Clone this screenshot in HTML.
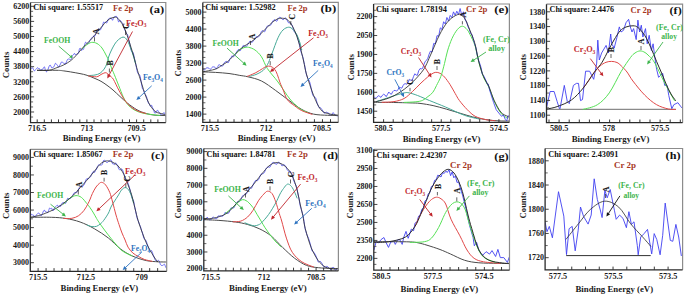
<!DOCTYPE html>
<html><head><meta charset="utf-8"><title>XPS</title>
<style>html,body{margin:0;padding:0;background:#fff;width:685px;height:296px;overflow:hidden}svg{display:block}.cv{filter:blur(0.3px)}</style>
</head><body>
<svg width="685" height="296" viewBox="0 0 685 296" font-family='"Liberation Serif", serif'>
<rect width="685" height="296" fill="#fff"/>
<g>
<clipPath id="ca"><rect x="30.5" y="2.5" width="135.3" height="120.1"/></clipPath>
<g clip-path="url(#ca)"><g class="cv">
<path d="M30.5,68.84 C30.67,68.76 31.17,68.51 31.5,68.33 C31.83,68.15 32.17,67.57 32.5,67.76 C32.83,67.96 33.17,68.97 33.5,69.5 C33.83,70.03 34.17,70.89 34.5,70.93 C34.83,70.96 35.17,70.08 35.5,69.71 C35.83,69.35 36.17,69.08 36.5,68.74 C36.83,68.41 37.17,67.77 37.5,67.72 C37.83,67.67 38.17,68.29 38.5,68.44 C38.83,68.59 39.17,68.32 39.5,68.64 C39.83,68.96 40.17,70.19 40.5,70.34 C40.83,70.49 41.17,69.68 41.5,69.52 C41.83,69.36 42.17,69.64 42.5,69.36 C42.83,69.08 43.17,68.27 43.5,67.85 C43.83,67.44 44.17,66.45 44.5,66.89 C44.83,67.32 45.17,69.68 45.5,70.48 C45.83,71.28 46.17,71.68 46.5,71.71 C46.83,71.74 47.17,71.31 47.5,70.68 C47.83,70.06 48.17,68.81 48.5,67.96 C48.83,67.1 49.17,65.99 49.5,65.54 C49.83,65.1 50.17,64.94 50.5,65.3 C50.83,65.65 51.17,67.28 51.5,67.67 C51.83,68.06 52.17,67.72 52.5,67.64 C52.83,67.56 53.17,67.58 53.5,67.19 C53.83,66.81 54.17,65.97 54.5,65.32 C54.83,64.67 55.17,63.46 55.5,63.28 C55.83,63.1 56.17,63.86 56.5,64.23 C56.83,64.59 57.17,64.97 57.5,65.46 C57.83,65.95 58.17,67.12 58.5,67.16 C58.83,67.2 59.17,66.25 59.5,65.71 C59.83,65.17 60.17,64.54 60.5,63.92 C60.83,63.29 61.17,62.24 61.5,61.97 C61.83,61.69 62.17,62.1 62.5,62.29 C62.83,62.48 63.17,62.92 63.5,63.11 C63.83,63.31 64.17,63.32 64.5,63.46 C64.83,63.6 65.17,64.25 65.5,63.96 C65.83,63.66 66.17,62.44 66.5,61.69 C66.83,60.95 67.17,59.94 67.5,59.49 C67.83,59.04 68.17,59.03 68.5,58.99 C68.83,58.94 69.17,59.09 69.5,59.21 C69.83,59.33 70.17,59.81 70.5,59.69 C70.83,59.57 71.17,59.19 71.5,58.48 C71.83,57.78 72.17,56.07 72.5,55.44 C72.83,54.8 73.17,55.02 73.5,54.67 C73.83,54.32 74.17,53.3 74.5,53.35 C74.83,53.4 75.17,54.83 75.5,54.97 C75.83,55.12 76.17,54.41 76.5,54.22 C76.83,54.03 77.17,54.05 77.5,53.84 C77.83,53.63 78.17,53.82 78.5,52.98 C78.83,52.13 79.17,49.54 79.5,48.78 C79.83,48.01 80.17,48.14 80.5,48.41 C80.83,48.67 81.17,50.17 81.5,50.38 C81.83,50.59 82.17,49.84 82.5,49.65 C82.83,49.46 83.17,49.96 83.5,49.23 C83.83,48.51 84.17,46.45 84.5,45.29 C84.83,44.13 85.17,42.67 85.5,42.27 C85.83,41.86 86.17,42.59 86.5,42.86 C86.83,43.13 87.17,43.83 87.5,43.88 C87.83,43.93 88.17,43.56 88.5,43.15 C88.83,42.75 89.17,42.09 89.5,41.46 C89.83,40.82 90.17,39.89 90.5,39.35 C90.83,38.82 91.17,38.62 91.5,38.23 C91.83,37.83 92.17,37.35 92.5,37.01 C92.83,36.67 93.17,36.24 93.5,36.16 C93.83,36.08 94.17,36.77 94.5,36.52 C94.83,36.27 95.17,35.45 95.5,34.65 C95.83,33.85 96.17,32.37 96.5,31.73 C96.83,31.08 97.17,31.3 97.5,30.8 C97.83,30.29 98.17,28.85 98.5,28.7 C98.83,28.56 99.17,29.76 99.5,29.94 C99.83,30.12 100.17,30.15 100.5,29.77 C100.83,29.39 101.17,28.3 101.5,27.66 C101.83,27.02 102.17,26.83 102.5,25.93 C102.83,25.02 103.17,22.79 103.5,22.21 C103.83,21.63 104.17,22.47 104.5,22.45 C104.83,22.43 105.17,21.98 105.5,22.08 C105.83,22.19 106.17,23.2 106.5,23.09 C106.83,22.97 107.17,22.07 107.5,21.38 C107.83,20.69 108.17,19.46 108.5,18.96 C108.83,18.45 109.17,18.51 109.5,18.35 C109.83,18.19 110.17,18.02 110.5,18 C110.83,17.98 111.17,17.85 111.5,18.23 C111.83,18.62 112.17,20.33 112.5,20.32 C112.83,20.31 113.17,18.76 113.5,18.16 C113.83,17.56 114.17,17.01 114.5,16.72 C114.83,16.43 115.17,16.49 115.5,16.45 C115.83,16.4 116.17,16.2 116.5,16.43 C116.83,16.66 117.17,16.94 117.5,17.83 C117.83,18.73 118.17,21.3 118.5,21.82 C118.83,22.34 119.17,21.13 119.5,20.95 C119.83,20.77 120.17,20.59 120.5,20.75 C120.83,20.91 121.17,21.51 121.5,21.91 C121.83,22.31 122.17,22.35 122.5,23.14 C122.83,23.93 123.17,25.62 123.5,26.66 C123.83,27.7 124.17,28.64 124.5,29.41 C124.83,30.18 125.17,30.59 125.5,31.28 C125.83,31.97 126.17,33.01 126.5,33.54 C126.83,34.06 127.17,33.63 127.5,34.45 C127.83,35.27 128.17,37.07 128.5,38.46 C128.83,39.84 129.17,41.27 129.5,42.75 C129.83,44.24 130.17,45.94 130.5,47.34 C130.83,48.75 131.17,50.44 131.5,51.17 C131.83,51.9 132.17,51.27 132.5,51.72 C132.83,52.17 133.17,52.72 133.5,53.89 C133.83,55.06 134.17,57.23 134.5,58.72 C134.83,60.2 135.17,61.27 135.5,62.79 C135.83,64.32 136.17,66.24 136.5,67.85 C136.83,69.45 137.17,71.41 137.5,72.43 C137.83,73.44 138.17,73.57 138.5,73.94 C138.83,74.31 139.17,73.96 139.5,74.64 C139.83,75.32 140.17,76.47 140.5,78.02 C140.83,79.57 141.17,82.14 141.5,83.93 C141.83,85.72 142.17,87.75 142.5,88.77 C142.83,89.79 143.17,89.31 143.5,90.04 C143.83,90.77 144.17,92.38 144.5,93.14 C144.83,93.89 145.17,93.98 145.5,94.58 C145.83,95.17 146.17,95.76 146.5,96.71 C146.83,97.67 147.17,99.24 147.5,100.32 C147.83,101.4 148.17,102.52 148.5,103.19 C148.83,103.87 149.17,103.83 149.5,104.34 C149.83,104.86 150.17,106.14 150.5,106.28 C150.83,106.42 151.17,104.95 151.5,105.18 C151.83,105.41 152.17,106.96 152.5,107.66 C152.83,108.36 153.17,108.52 153.5,109.38 C153.83,110.24 154.17,112.22 154.5,112.82 C154.83,113.42 155.17,113.2 155.5,112.97 C155.83,112.73 156.17,111.87 156.5,111.4 C156.83,110.93 157.17,110.07 157.5,110.16 C157.83,110.25 158.17,111.55 158.5,111.94 C158.83,112.34 159.17,112.11 159.5,112.52 C159.83,112.92 160.17,113.98 160.5,114.39 C160.83,114.79 161.17,114.99 161.5,114.96 C161.83,114.93 162.17,114.55 162.5,114.19 C162.83,113.84 163.17,113.05 163.5,112.85 C163.83,112.65 164.17,112.4 164.5,113 C164.83,113.59 165.33,115.85 165.5,116.42" fill="none" stroke="#4040f0" stroke-width="0.75" stroke-linejoin="round" stroke-linecap="round"/>
<path d="M37.4,70.3 C40.67,70.3 52.6,70.2 57,70.3 C61.4,70.4 61.55,70.63 63.8,70.9 C66.05,71.17 67.8,71.45 70.5,71.9 C73.2,72.35 77.25,73.03 80,73.6 C82.75,74.17 84.5,74.48 87,75.3 C89.5,76.12 92.67,77.5 95,78.5 C97.33,79.5 99,80.17 101,81.3 C103,82.43 105,83.85 107,85.3 C109,86.75 110.83,88.13 113,90 C115.17,91.87 117.62,94.33 120,96.5 C122.38,98.67 124.47,100.78 127.3,103 C130.13,105.22 133.85,108.05 137,109.8 C140.15,111.55 143.2,112.6 146.2,113.5 C149.2,114.4 151.7,114.87 155,115.2 C158.3,115.53 164.17,115.45 166,115.5" fill="none" stroke="#4a4a4a" stroke-width="1" stroke-linejoin="round" stroke-linecap="round"/>
<path d="M82,49 C82.75,48.33 84.92,46.1 86.5,45 C88.08,43.9 89.75,42.65 91.5,42.4 C93.25,42.15 95.25,42.57 97,43.5 C98.75,44.43 100.5,46.08 102,48 C103.5,49.92 104.8,52.75 106,55 C107.2,57.25 108.28,59.33 109.2,61.5 C110.12,63.67 110.63,65.78 111.5,68 C112.37,70.22 113.18,71.83 114.4,74.8 C115.62,77.77 117.33,82.15 118.8,85.8 C120.27,89.45 121.73,93.6 123.2,96.7 C124.67,99.8 125.77,102.2 127.6,104.4 C129.43,106.6 131.63,108.43 134.2,109.9 C136.77,111.37 139.72,112.38 143,113.2 C146.28,114.02 151.07,114.42 153.9,114.8 C156.73,115.18 158.98,115.38 160,115.5" fill="none" stroke="#55e055" stroke-width="1" stroke-linejoin="round" stroke-linecap="round"/>
<path d="M88,75.6 C89.17,75.5 92.98,75.4 95,75 C97.02,74.6 98.58,74.18 100.1,73.2 C101.62,72.22 103,70.63 104.1,69.1 C105.2,67.57 105.95,66.02 106.7,64 C107.45,61.98 107.72,59.5 108.6,57 C109.48,54.5 110.63,51.62 112,49 C113.37,46.38 114.97,43.28 116.8,41.3 C118.63,39.32 121.25,37.25 123,37.1 C124.75,36.95 125.9,38.2 127.3,40.4 C128.7,42.6 130.22,47.12 131.4,50.3 C132.58,53.48 133.72,57.3 134.4,59.5 C135.08,61.7 135.32,62.83 135.5,63.5" fill="none" stroke="#45a896" stroke-width="1" stroke-linejoin="round" stroke-linecap="round"/>
<path d="M88.3,75.8 C89.68,75.97 94.48,77.02 96.6,76.8 C98.72,76.58 99.58,75.18 101,74.5 C102.42,73.82 103.98,72.83 105.1,72.7 C106.22,72.57 106.85,73.12 107.7,73.7 C108.55,74.28 109.27,75.28 110.2,76.2 C111.13,77.12 111.87,76.88 113.3,79.2 C114.73,81.52 116.78,86.45 118.8,90.1 C120.82,93.75 123.2,98.17 125.4,101.1 C127.6,104.03 129.73,105.97 132,107.7 C134.27,109.43 136.67,110.53 139,111.5 C141.33,112.47 144.83,113.17 146,113.5" fill="none" stroke="#e04848" stroke-width="1" stroke-linejoin="round" stroke-linecap="round"/>
<path d="M37.4,70.3 C39.32,70.3 45.63,70.75 48.9,70.3 C52.17,69.85 54.52,68.5 57,67.6 C59.48,66.7 61.55,66.03 63.8,64.9 C66.05,63.77 68.47,62.35 70.5,60.8 C72.53,59.25 74.27,57.43 76,55.6 C77.73,53.77 79.32,51.6 80.9,49.8 C82.48,48 83.92,46.4 85.5,44.8 C87.08,43.2 88.9,41.77 90.4,40.2 C91.9,38.63 93.12,37.03 94.5,35.4 C95.88,33.77 97.02,32.42 98.7,30.4 C100.38,28.38 102.83,25.18 104.6,23.3 C106.37,21.42 107.73,20.1 109.3,19.1 C110.87,18.1 112.8,17.58 114,17.3 C115.2,17.02 115.67,17.02 116.5,17.4 C117.33,17.78 118.12,18.6 119,19.6 C119.88,20.6 120.77,21.67 121.8,23.4 C122.83,25.13 124.07,27.27 125.2,30 C126.33,32.73 127.6,36.8 128.6,39.8 C129.6,42.8 130.4,45.47 131.2,48 C132,50.53 132.72,52.62 133.4,55 C134.08,57.38 134.77,60.25 135.3,62.3 C135.83,64.35 136.05,65.35 136.6,67.3 C137.15,69.25 137.72,71.17 138.6,74 C139.48,76.83 140.82,80.88 141.9,84.3 C142.98,87.72 144.02,91.52 145.1,94.5 C146.18,97.48 147.3,100 148.4,102.2 C149.5,104.4 150.42,106.05 151.7,107.7 C152.98,109.35 154.27,111.07 156.1,112.1 C157.93,113.13 161.05,113.35 162.7,113.9 C164.35,114.45 165.45,115.15 166,115.4" fill="none" stroke="#2a2a2a" stroke-width="0.8" stroke-linejoin="round" stroke-linecap="round"/>
</g></g>
<line x1="30.5" y1="6.3" x2="34.1" y2="6.3" stroke="#333" stroke-width="0.9"/>
<line x1="30.5" y1="11.33" x2="33.1" y2="11.33" stroke="#555" stroke-width="0.9"/>
<line x1="30.5" y1="16.37" x2="33.1" y2="16.37" stroke="#555" stroke-width="0.9"/>
<line x1="30.5" y1="21.4" x2="34.1" y2="21.4" stroke="#333" stroke-width="0.9"/>
<line x1="30.5" y1="26.43" x2="33.1" y2="26.43" stroke="#555" stroke-width="0.9"/>
<line x1="30.5" y1="31.47" x2="33.1" y2="31.47" stroke="#555" stroke-width="0.9"/>
<line x1="30.5" y1="36.5" x2="34.1" y2="36.5" stroke="#333" stroke-width="0.9"/>
<line x1="30.5" y1="41.53" x2="33.1" y2="41.53" stroke="#555" stroke-width="0.9"/>
<line x1="30.5" y1="46.56" x2="33.1" y2="46.56" stroke="#555" stroke-width="0.9"/>
<line x1="30.5" y1="51.6" x2="34.1" y2="51.6" stroke="#333" stroke-width="0.9"/>
<line x1="30.5" y1="56.63" x2="33.1" y2="56.63" stroke="#555" stroke-width="0.9"/>
<line x1="30.5" y1="61.66" x2="33.1" y2="61.66" stroke="#555" stroke-width="0.9"/>
<line x1="30.5" y1="66.7" x2="34.1" y2="66.7" stroke="#333" stroke-width="0.9"/>
<line x1="30.5" y1="71.73" x2="33.1" y2="71.73" stroke="#555" stroke-width="0.9"/>
<line x1="30.5" y1="76.76" x2="33.1" y2="76.76" stroke="#555" stroke-width="0.9"/>
<line x1="30.5" y1="81.8" x2="34.1" y2="81.8" stroke="#333" stroke-width="0.9"/>
<line x1="30.5" y1="86.83" x2="33.1" y2="86.83" stroke="#555" stroke-width="0.9"/>
<line x1="30.5" y1="91.86" x2="33.1" y2="91.86" stroke="#555" stroke-width="0.9"/>
<line x1="30.5" y1="96.89" x2="34.1" y2="96.89" stroke="#333" stroke-width="0.9"/>
<line x1="30.5" y1="101.93" x2="33.1" y2="101.93" stroke="#555" stroke-width="0.9"/>
<line x1="30.5" y1="106.96" x2="33.1" y2="106.96" stroke="#555" stroke-width="0.9"/>
<line x1="30.5" y1="111.99" x2="34.1" y2="111.99" stroke="#333" stroke-width="0.9"/>
<line x1="30.5" y1="117.03" x2="33.1" y2="117.03" stroke="#555" stroke-width="0.9"/>
<text x="29.3" y="9.05" font-size="8" font-weight="bold" fill="#1a1a1a" text-anchor="end">6200</text>
<text x="29.3" y="24.15" font-size="8" font-weight="bold" fill="#1a1a1a" text-anchor="end">5600</text>
<text x="29.3" y="39.25" font-size="8" font-weight="bold" fill="#1a1a1a" text-anchor="end">5000</text>
<text x="29.3" y="54.35" font-size="8" font-weight="bold" fill="#1a1a1a" text-anchor="end">4400</text>
<text x="29.3" y="69.45" font-size="8" font-weight="bold" fill="#1a1a1a" text-anchor="end">3800</text>
<text x="29.3" y="84.55" font-size="8" font-weight="bold" fill="#1a1a1a" text-anchor="end">3200</text>
<text x="29.3" y="99.65" font-size="8" font-weight="bold" fill="#1a1a1a" text-anchor="end">2600</text>
<text x="29.3" y="114.75" font-size="8" font-weight="bold" fill="#1a1a1a" text-anchor="end">2000</text>
<line x1="37.2" y1="122.6" x2="37.2" y2="119.4" stroke="#222" stroke-width="0.9"/>
<line x1="44.3" y1="122.6" x2="44.3" y2="119.4" stroke="#222" stroke-width="0.9"/>
<line x1="51.4" y1="122.6" x2="51.4" y2="119.4" stroke="#222" stroke-width="0.9"/>
<line x1="58.5" y1="122.6" x2="58.5" y2="119.4" stroke="#222" stroke-width="0.9"/>
<line x1="65.6" y1="122.6" x2="65.6" y2="119.4" stroke="#222" stroke-width="0.9"/>
<line x1="72.7" y1="122.6" x2="72.7" y2="119.4" stroke="#222" stroke-width="0.9"/>
<line x1="79.8" y1="122.6" x2="79.8" y2="119.4" stroke="#222" stroke-width="0.9"/>
<line x1="86.9" y1="122.6" x2="86.9" y2="119.4" stroke="#222" stroke-width="0.9"/>
<line x1="94" y1="122.6" x2="94" y2="119.4" stroke="#222" stroke-width="0.9"/>
<line x1="101.1" y1="122.6" x2="101.1" y2="119.4" stroke="#222" stroke-width="0.9"/>
<line x1="108.2" y1="122.6" x2="108.2" y2="119.4" stroke="#222" stroke-width="0.9"/>
<line x1="115.3" y1="122.6" x2="115.3" y2="119.4" stroke="#222" stroke-width="0.9"/>
<line x1="122.4" y1="122.6" x2="122.4" y2="119.4" stroke="#222" stroke-width="0.9"/>
<line x1="129.5" y1="122.6" x2="129.5" y2="119.4" stroke="#222" stroke-width="0.9"/>
<line x1="136.6" y1="122.6" x2="136.6" y2="119.4" stroke="#222" stroke-width="0.9"/>
<line x1="143.7" y1="122.6" x2="143.7" y2="119.4" stroke="#222" stroke-width="0.9"/>
<line x1="150.8" y1="122.6" x2="150.8" y2="119.4" stroke="#222" stroke-width="0.9"/>
<line x1="157.9" y1="122.6" x2="157.9" y2="119.4" stroke="#222" stroke-width="0.9"/>
<text x="37.2" y="130.7" font-size="8.2" font-weight="bold" fill="#1a1a1a" text-anchor="middle">716.5</text>
<text x="86.9" y="130.7" font-size="8.2" font-weight="bold" fill="#1a1a1a" text-anchor="middle">713</text>
<text x="136.6" y="130.7" font-size="8.2" font-weight="bold" fill="#1a1a1a" text-anchor="middle">709.5</text>
<text x="101.6" y="140.6" font-size="8.8" font-weight="bold" fill="#1a1a1a" text-anchor="middle">Binding Energy (eV)</text>
<text x="5.9" y="67.8" font-size="8.7" font-weight="bold" fill="#1a1a1a" text-anchor="middle" transform="rotate(-90 5.9 64.9)">Counts</text>
<path d="M30.5,2.5 H165.8 V122.6" fill="none" stroke="#8c8c8c" stroke-width="1.2"/>
<path d="M30.5,2.5 V122.6 H165.8" fill="none" stroke="#2a2a2a" stroke-width="1.3"/>
<text x="33.2" y="9.81" font-size="7.7" fill="#111" font-weight="bold" textLength="70" lengthAdjust="spacingAndGlyphs">Chi square: 1.55517</text>
<text x="113.1" y="11.04" font-size="8.6" fill="#a6381f" font-weight="bold" textLength="20.1" lengthAdjust="spacingAndGlyphs">Fe 2p</text>
<text x="149.6" y="12.73" font-size="11" fill="#111" font-weight="bold" textLength="14.6" lengthAdjust="spacingAndGlyphs">(a)</text>
<text x="126" y="25.5" font-size="7.9" fill="#c0262c" font-weight="bold" textLength="20.5" lengthAdjust="spacingAndGlyphs"><tspan>Fe</tspan><tspan font-size="5.21" dy="1.9">2</tspan><tspan dy="-1.9">O</tspan><tspan font-size="5.21" dy="1.9">3</tspan></text>
<text x="44.1" y="42.61" font-size="7.9" fill="#3cb44b" font-weight="bold" textLength="26.3" lengthAdjust="spacingAndGlyphs">FeOOH</text>
<text x="143" y="80" font-size="7.9" fill="#2f74c0" font-weight="bold" textLength="19.9" lengthAdjust="spacingAndGlyphs"><tspan>Fe</tspan><tspan font-size="5.21" dy="1.9">3</tspan><tspan dy="-1.9">O</tspan><tspan font-size="5.21" dy="1.9">4</tspan></text>
<line x1="58.7" y1="46.1" x2="70.71" y2="56.47" stroke="#3cb44b" stroke-width="0.9"/>
<polygon points="72.6,58.1 69.15,57.5 71.51,54.78" fill="#3cb44b"/>
<line x1="132.5" y1="31.5" x2="108.96" y2="75.32" stroke="#c0262c" stroke-width="0.9"/>
<polygon points="107.3,78.4 107.52,73.98 110.87,75.78" fill="#c0262c"/>
<line x1="151.7" y1="85.8" x2="138.97" y2="97.62" stroke="#2f74c0" stroke-width="0.9"/>
<polygon points="136.4,100 138.04,95.89 140.62,98.67" fill="#2f74c0"/>
<text x="96.5" y="34.07" font-size="7.8" font-weight="bold" fill="#151515" stroke="#151515" stroke-width="0.1" text-anchor="middle" transform="rotate(-90 96.5 31.5)">A</text>
<line x1="94.5" y1="37.2" x2="94.5" y2="41.5" stroke="#222" stroke-width="0.7"/>
<text x="110.2" y="65.37" font-size="7.8" font-weight="bold" fill="#151515" stroke="#151515" stroke-width="0.1" text-anchor="middle" transform="rotate(-90 110.2 62.8)">B</text>
<line x1="109.4" y1="68.5" x2="109.4" y2="72.5" stroke="#222" stroke-width="0.7"/>
<text x="126.8" y="28.57" font-size="7.8" font-weight="bold" fill="#151515" stroke="#151515" stroke-width="0.1" text-anchor="middle" transform="rotate(-90 126.8 26)">C</text>
<line x1="125.5" y1="30.5" x2="125.5" y2="35" stroke="#222" stroke-width="0.7"/>
</g>
<g>
<clipPath id="cb"><rect x="202.8" y="2.4" width="135.5" height="120"/></clipPath>
<g clip-path="url(#cb)"><g class="cv">
<path d="M203,69.06 C203.17,69.21 203.67,69.85 204,69.95 C204.33,70.05 204.67,69.95 205,69.66 C205.33,69.36 205.67,68.46 206,68.17 C206.33,67.87 206.67,67.93 207,67.87 C207.33,67.81 207.67,67.72 208,67.8 C208.33,67.88 208.67,68.08 209,68.33 C209.33,68.57 209.67,69.2 210,69.28 C210.33,69.37 210.67,69.15 211,68.83 C211.33,68.51 211.67,67.72 212,67.38 C212.33,67.04 212.67,66.85 213,66.79 C213.33,66.72 213.67,66.93 214,67 C214.33,67.07 214.67,66.87 215,67.21 C215.33,67.55 215.67,68.93 216,69.03 C216.33,69.12 216.67,68.23 217,67.77 C217.33,67.31 217.67,66.81 218,66.27 C218.33,65.72 218.67,64.63 219,64.48 C219.33,64.33 219.67,65.19 220,65.38 C220.33,65.56 220.67,65.41 221,65.57 C221.33,65.73 221.67,66.36 222,66.34 C222.33,66.33 222.67,66.03 223,65.5 C223.33,64.96 223.67,63.72 224,63.14 C224.33,62.56 224.67,62.27 225,62.02 C225.33,61.77 225.67,61.71 226,61.62 C226.33,61.53 226.67,61.25 227,61.47 C227.33,61.7 227.67,63.04 228,62.98 C228.33,62.93 228.67,61.85 229,61.16 C229.33,60.46 229.67,59.39 230,58.82 C230.33,58.24 230.67,58.24 231,57.72 C231.33,57.21 231.67,55.85 232,55.71 C232.33,55.58 232.67,56.81 233,56.9 C233.33,56.99 233.67,56.51 234,56.26 C234.33,56.02 234.67,55.95 235,55.42 C235.33,54.89 235.67,53.78 236,53.09 C236.33,52.39 236.67,51.79 237,51.25 C237.33,50.7 237.67,50.06 238,49.8 C238.33,49.55 238.67,49.49 239,49.7 C239.33,49.92 239.67,51.16 240,51.11 C240.33,51.06 240.67,49.85 241,49.38 C241.33,48.91 241.67,48.93 242,48.3 C242.33,47.67 242.67,46 243,45.6 C243.33,45.19 243.67,45.77 244,45.87 C244.33,45.97 244.67,46.09 245,46.18 C245.33,46.27 245.67,46.47 246,46.42 C246.33,46.36 246.67,46.25 247,45.83 C247.33,45.41 247.67,44.48 248,43.92 C248.33,43.37 248.67,42.98 249,42.48 C249.33,41.98 249.67,41.04 250,40.91 C250.33,40.79 250.67,41.47 251,41.75 C251.33,42.03 251.67,42.72 252,42.59 C252.33,42.47 252.67,41.38 253,40.99 C253.33,40.61 253.67,40.74 254,40.29 C254.33,39.85 254.67,38.93 255,38.34 C255.33,37.76 255.67,37.02 256,36.77 C256.33,36.53 256.67,36.81 257,36.87 C257.33,36.94 257.67,37.28 258,37.17 C258.33,37.07 258.67,36.55 259,36.22 C259.33,35.9 259.67,35.85 260,35.2 C260.33,34.55 260.67,33.04 261,32.3 C261.33,31.57 261.67,31.01 262,30.77 C262.33,30.54 262.67,30.72 263,30.9 C263.33,31.08 263.67,31.79 264,31.85 C264.33,31.91 264.67,31.81 265,31.26 C265.33,30.7 265.67,29.31 266,28.51 C266.33,27.71 266.67,26.96 267,26.47 C267.33,25.97 267.67,25.65 268,25.55 C268.33,25.46 268.67,25.95 269,25.89 C269.33,25.83 269.67,25.38 270,25.19 C270.33,25.01 270.67,25.2 271,24.78 C271.33,24.36 271.67,23.32 272,22.69 C272.33,22.06 272.67,21.48 273,20.98 C273.33,20.49 273.67,19.87 274,19.73 C274.33,19.6 274.67,19.96 275,20.15 C275.33,20.34 275.67,20.7 276,20.85 C276.33,21.01 276.67,21.47 277,21.1 C277.33,20.73 277.67,19.2 278,18.63 C278.33,18.06 278.67,17.92 279,17.69 C279.33,17.45 279.67,17.18 280,17.22 C280.33,17.26 280.67,17.64 281,17.92 C281.33,18.2 281.67,18.54 282,18.87 C282.33,19.21 282.67,19.92 283,19.93 C283.33,19.93 283.67,19.27 284,18.89 C284.33,18.51 284.67,17.73 285,17.66 C285.33,17.59 285.67,18.11 286,18.49 C286.33,18.86 286.67,19.32 287,19.9 C287.33,20.49 287.67,21.42 288,21.98 C288.33,22.54 288.67,23.16 289,23.26 C289.33,23.37 289.67,22.57 290,22.62 C290.33,22.68 290.67,23.17 291,23.6 C291.33,24.03 291.67,24.53 292,25.22 C292.33,25.9 292.67,26.72 293,27.72 C293.33,28.71 293.67,30.36 294,31.18 C294.33,32 294.67,32.15 295,32.63 C295.33,33.11 295.67,33.57 296,34.07 C296.33,34.58 296.67,34.77 297,35.64 C297.33,36.52 297.67,38.16 298,39.34 C298.33,40.52 298.67,41.42 299,42.73 C299.33,44.03 299.67,45.66 300,47.17 C300.33,48.68 300.67,50.51 301,51.78 C301.33,53.05 301.67,53.83 302,54.79 C302.33,55.76 302.67,56.3 303,57.56 C303.33,58.82 303.67,60.81 304,62.35 C304.33,63.9 304.67,65.1 305,66.83 C305.33,68.57 305.67,71.15 306,72.75 C306.33,74.35 306.67,75.47 307,76.44 C307.33,77.42 307.67,77.97 308,78.6 C308.33,79.22 308.67,79.45 309,80.19 C309.33,80.93 309.67,81.82 310,83.03 C310.33,84.24 310.67,85.91 311,87.45 C311.33,89 311.67,90.98 312,92.31 C312.33,93.64 312.67,94.73 313,95.44 C313.33,96.15 313.67,96.29 314,96.57 C314.33,96.85 314.67,96.77 315,97.14 C315.33,97.51 315.67,97.85 316,98.8 C316.33,99.75 316.67,101.77 317,102.85 C317.33,103.93 317.67,104.48 318,105.27 C318.33,106.06 318.67,107.2 319,107.58 C319.33,107.95 319.67,107.43 320,107.53 C320.33,107.64 320.67,107.83 321,108.18 C321.33,108.54 321.67,109.15 322,109.65 C322.33,110.15 322.67,110.65 323,111.2 C323.33,111.75 323.67,112.62 324,112.95 C324.33,113.27 324.67,113.22 325,113.13 C325.33,113.05 325.67,112.58 326,112.43 C326.33,112.27 326.67,112.08 327,112.18 C327.33,112.28 327.67,112.8 328,113.01 C328.33,113.21 328.67,113.1 329,113.43 C329.33,113.75 329.67,114.74 330,114.97 C330.33,115.19 330.67,114.83 331,114.77 C331.33,114.72 331.67,114.97 332,114.62 C332.33,114.26 332.67,112.79 333,112.65 C333.33,112.5 333.67,113.32 334,113.77 C334.33,114.22 334.67,115.11 335,115.36 C335.33,115.6 335.67,115.08 336,115.23 C336.33,115.38 336.67,116.2 337,116.23 C337.33,116.27 337.83,115.57 338,115.44" fill="none" stroke="#4040f0" stroke-width="0.75" stroke-linejoin="round" stroke-linecap="round"/>
<path d="M203,71.9 C205.08,71.98 211.17,72.13 215.5,72.4 C219.83,72.67 224.95,73 229,73.5 C233.05,74 236.63,74.85 239.8,75.4 C242.97,75.95 244.38,75.87 248,76.8 C251.62,77.73 256.88,78.72 261.5,81 C266.12,83.28 270.97,87.15 275.7,90.5 C280.43,93.85 285.57,97.95 289.9,101.1 C294.23,104.25 297.77,107.23 301.7,109.4 C305.63,111.57 309.17,113.12 313.5,114.1 C317.83,115.08 323.53,115.1 327.7,115.3 C331.87,115.5 336.7,115.3 338.5,115.3" fill="none" stroke="#4a4a4a" stroke-width="1" stroke-linejoin="round" stroke-linecap="round"/>
<path d="M236,53.6 C236.63,52.93 238.47,50.58 239.8,49.6 C241.13,48.62 242.55,48.08 244,47.7 C245.45,47.32 246.67,46.92 248.5,47.3 C250.33,47.68 252.83,48.42 255,50 C257.17,51.58 259.43,53.7 261.5,56.8 C263.57,59.9 264.65,64.4 267.4,68.6 C270.15,72.8 274.25,76.93 278,82 C281.75,87.07 286.23,94.53 289.9,99 C293.57,103.47 296.98,106.55 300,108.8 C303.02,111.05 306.67,111.88 308,112.5" fill="none" stroke="#55e055" stroke-width="1" stroke-linejoin="round" stroke-linecap="round"/>
<path d="M249.7,76.3 C250.75,76 254.03,75.28 256,74.5 C257.97,73.72 260,72.6 261.5,71.6 C263,70.6 263.83,70.02 265,68.5 C266.17,66.98 267.33,65 268.5,62.5 C269.67,60 270.42,57.62 272,53.5 C273.58,49.38 276.17,41.72 278,37.8 C279.83,33.88 281.22,31.77 283,30 C284.78,28.23 287.03,27.28 288.7,27.2 C290.37,27.12 291.62,28.2 293,29.5 C294.38,30.8 295.83,32.75 297,35 C298.17,37.25 299.22,40.55 300,43 C300.78,45.45 301.42,48.58 301.7,49.7" fill="none" stroke="#45a896" stroke-width="1" stroke-linejoin="round" stroke-linecap="round"/>
<path d="M247.3,76.3 C247.6,76.18 247.68,76.2 249.1,75.6 C250.52,75 253.55,73.87 255.8,72.7 C258.05,71.53 260.8,69.65 262.6,68.6 C264.4,67.55 265.25,66.77 266.6,66.4 C267.95,66.03 269.35,65.92 270.7,66.4 C272.05,66.88 273.58,67.92 274.7,69.3 C275.82,70.68 276.5,72.45 277.4,74.7 C278.3,76.95 279.17,80.33 280.1,82.8 C281.03,85.27 281.77,86.65 283,89.5 C284.23,92.35 285.57,97.18 287.5,99.9 C289.43,102.62 292.23,104.02 294.6,105.8 C296.97,107.58 298.8,109.18 301.7,110.6 C304.6,112.02 310.28,113.68 312,114.3" fill="none" stroke="#e04848" stroke-width="1" stroke-linejoin="round" stroke-linecap="round"/>
<path d="M203,71.8 C205.08,71.35 212.28,70.23 215.5,69.1 C218.72,67.97 220.27,66.25 222.3,65 C224.33,63.75 225.9,63.07 227.7,61.6 C229.5,60.13 231.3,58 233.1,56.2 C234.9,54.4 236.7,52.45 238.5,50.8 C240.3,49.15 242.1,47.6 243.9,46.3 C245.7,45 247.6,44.12 249.3,43 C251,41.88 252.28,41.05 254.1,39.6 C255.92,38.15 258.17,36.2 260.2,34.3 C262.23,32.4 264.27,30.22 266.3,28.2 C268.33,26.18 270.38,23.8 272.4,22.2 C274.42,20.6 276.5,19.23 278.4,18.6 C280.3,17.97 282.27,18.18 283.8,18.4 C285.33,18.62 286.33,18.9 287.6,19.9 C288.87,20.9 290.13,22.38 291.4,24.4 C292.67,26.42 294.07,29.33 295.2,32 C296.33,34.67 297.2,37.23 298.2,40.4 C299.2,43.57 300.27,47.4 301.2,51 C302.13,54.6 302.93,58.18 303.8,62 C304.67,65.82 304.78,68.37 306.4,73.9 C308.02,79.43 311.13,89.28 313.5,95.2 C315.87,101.12 318.23,106.35 320.6,109.4 C322.97,112.45 324.72,112.52 327.7,113.5 C330.68,114.48 336.7,115 338.5,115.3" fill="none" stroke="#2a2a2a" stroke-width="0.8" stroke-linejoin="round" stroke-linecap="round"/>
</g></g>
<line x1="202.8" y1="6.43" x2="205.4" y2="6.43" stroke="#555" stroke-width="0.9"/>
<line x1="202.8" y1="12.1" x2="206.4" y2="12.1" stroke="#333" stroke-width="0.9"/>
<line x1="202.8" y1="17.77" x2="205.4" y2="17.77" stroke="#555" stroke-width="0.9"/>
<line x1="202.8" y1="23.43" x2="205.4" y2="23.43" stroke="#555" stroke-width="0.9"/>
<line x1="202.8" y1="29.1" x2="206.4" y2="29.1" stroke="#333" stroke-width="0.9"/>
<line x1="202.8" y1="34.77" x2="205.4" y2="34.77" stroke="#555" stroke-width="0.9"/>
<line x1="202.8" y1="40.44" x2="205.4" y2="40.44" stroke="#555" stroke-width="0.9"/>
<line x1="202.8" y1="46.1" x2="206.4" y2="46.1" stroke="#333" stroke-width="0.9"/>
<line x1="202.8" y1="51.77" x2="205.4" y2="51.77" stroke="#555" stroke-width="0.9"/>
<line x1="202.8" y1="57.44" x2="205.4" y2="57.44" stroke="#555" stroke-width="0.9"/>
<line x1="202.8" y1="63.1" x2="206.4" y2="63.1" stroke="#333" stroke-width="0.9"/>
<line x1="202.8" y1="68.77" x2="205.4" y2="68.77" stroke="#555" stroke-width="0.9"/>
<line x1="202.8" y1="74.44" x2="205.4" y2="74.44" stroke="#555" stroke-width="0.9"/>
<line x1="202.8" y1="80.1" x2="206.4" y2="80.1" stroke="#333" stroke-width="0.9"/>
<line x1="202.8" y1="85.77" x2="205.4" y2="85.77" stroke="#555" stroke-width="0.9"/>
<line x1="202.8" y1="91.44" x2="205.4" y2="91.44" stroke="#555" stroke-width="0.9"/>
<line x1="202.8" y1="97.11" x2="206.4" y2="97.11" stroke="#333" stroke-width="0.9"/>
<line x1="202.8" y1="102.77" x2="205.4" y2="102.77" stroke="#555" stroke-width="0.9"/>
<line x1="202.8" y1="108.44" x2="205.4" y2="108.44" stroke="#555" stroke-width="0.9"/>
<line x1="202.8" y1="114.11" x2="206.4" y2="114.11" stroke="#333" stroke-width="0.9"/>
<line x1="202.8" y1="119.77" x2="205.4" y2="119.77" stroke="#555" stroke-width="0.9"/>
<text x="201.6" y="14.85" font-size="8" font-weight="bold" fill="#1a1a1a" text-anchor="end">5000</text>
<text x="201.6" y="31.85" font-size="8" font-weight="bold" fill="#1a1a1a" text-anchor="end">4400</text>
<text x="201.6" y="48.85" font-size="8" font-weight="bold" fill="#1a1a1a" text-anchor="end">3800</text>
<text x="201.6" y="65.85" font-size="8" font-weight="bold" fill="#1a1a1a" text-anchor="end">3200</text>
<text x="201.6" y="82.75" font-size="8" font-weight="bold" fill="#1a1a1a" text-anchor="end">2600</text>
<text x="201.6" y="99.75" font-size="8" font-weight="bold" fill="#1a1a1a" text-anchor="end">2000</text>
<text x="201.6" y="116.75" font-size="8" font-weight="bold" fill="#1a1a1a" text-anchor="end">1400</text>
<line x1="209.9" y1="122.4" x2="209.9" y2="119.2" stroke="#222" stroke-width="0.9"/>
<line x1="217.94" y1="122.4" x2="217.94" y2="119.2" stroke="#222" stroke-width="0.9"/>
<line x1="225.98" y1="122.4" x2="225.98" y2="119.2" stroke="#222" stroke-width="0.9"/>
<line x1="234.02" y1="122.4" x2="234.02" y2="119.2" stroke="#222" stroke-width="0.9"/>
<line x1="242.06" y1="122.4" x2="242.06" y2="119.2" stroke="#222" stroke-width="0.9"/>
<line x1="250.1" y1="122.4" x2="250.1" y2="119.2" stroke="#222" stroke-width="0.9"/>
<line x1="258.14" y1="122.4" x2="258.14" y2="119.2" stroke="#222" stroke-width="0.9"/>
<line x1="266.18" y1="122.4" x2="266.18" y2="119.2" stroke="#222" stroke-width="0.9"/>
<line x1="274.22" y1="122.4" x2="274.22" y2="119.2" stroke="#222" stroke-width="0.9"/>
<line x1="282.26" y1="122.4" x2="282.26" y2="119.2" stroke="#222" stroke-width="0.9"/>
<line x1="290.3" y1="122.4" x2="290.3" y2="119.2" stroke="#222" stroke-width="0.9"/>
<line x1="298.34" y1="122.4" x2="298.34" y2="119.2" stroke="#222" stroke-width="0.9"/>
<line x1="306.38" y1="122.4" x2="306.38" y2="119.2" stroke="#222" stroke-width="0.9"/>
<line x1="314.42" y1="122.4" x2="314.42" y2="119.2" stroke="#222" stroke-width="0.9"/>
<line x1="322.46" y1="122.4" x2="322.46" y2="119.2" stroke="#222" stroke-width="0.9"/>
<line x1="330.5" y1="122.4" x2="330.5" y2="119.2" stroke="#222" stroke-width="0.9"/>
<text x="209.9" y="130.8" font-size="8.2" font-weight="bold" fill="#1a1a1a" text-anchor="middle">715.5</text>
<text x="266.2" y="130.8" font-size="8.2" font-weight="bold" fill="#1a1a1a" text-anchor="middle">712</text>
<text x="322" y="130.8" font-size="8.2" font-weight="bold" fill="#1a1a1a" text-anchor="middle">708.5</text>
<text x="276.5" y="140.7" font-size="8.8" font-weight="bold" fill="#1a1a1a" text-anchor="middle">Binding Energy (eV)</text>
<text x="178.3" y="66" font-size="8.7" font-weight="bold" fill="#1a1a1a" text-anchor="middle" transform="rotate(-90 178.3 63.1)">Counts</text>
<path d="M202.8,2.4 H338.3 V122.4" fill="none" stroke="#8c8c8c" stroke-width="1.2"/>
<path d="M202.8,2.4 V122.4 H338.3" fill="none" stroke="#2a2a2a" stroke-width="1.3"/>
<text x="205.2" y="10.31" font-size="7.7" fill="#111" font-weight="bold" textLength="70.5" lengthAdjust="spacingAndGlyphs">Chi square: 1.52982</text>
<text x="287.5" y="11.04" font-size="8.6" fill="#a6381f" font-weight="bold" textLength="20.1" lengthAdjust="spacingAndGlyphs">Fe 2p</text>
<text x="320.6" y="12.23" font-size="11" fill="#111" font-weight="bold" textLength="15.6" lengthAdjust="spacingAndGlyphs">(b)</text>
<text x="308.3" y="36.2" font-size="7.9" fill="#c0262c" font-weight="bold" textLength="19.7" lengthAdjust="spacingAndGlyphs"><tspan>Fe</tspan><tspan font-size="5.21" dy="1.9">2</tspan><tspan dy="-1.9">O</tspan><tspan font-size="5.21" dy="1.9">3</tspan></text>
<text x="212.5" y="46.41" font-size="7.9" fill="#3cb44b" font-weight="bold" textLength="26.3" lengthAdjust="spacingAndGlyphs">FeOOH</text>
<text x="313" y="65.7" font-size="7.9" fill="#2f74c0" font-weight="bold" textLength="19.6" lengthAdjust="spacingAndGlyphs"><tspan>Fe</tspan><tspan font-size="5.21" dy="1.9">3</tspan><tspan dy="-1.9">O</tspan><tspan font-size="5.21" dy="1.9">4</tspan></text>
<line x1="227" y1="48.1" x2="244" y2="63.36" stroke="#3cb44b" stroke-width="0.9"/>
<polygon points="246.6,65.7 242.35,64.44 244.89,61.61" fill="#3cb44b"/>
<line x1="313.5" y1="37.8" x2="272.75" y2="69.84" stroke="#c0262c" stroke-width="0.9"/>
<polygon points="270,72 271.97,68.03 274.32,71.02" fill="#c0262c"/>
<line x1="318.2" y1="70.4" x2="303.06" y2="84.51" stroke="#2f74c0" stroke-width="0.9"/>
<polygon points="300.5,86.9 302.13,82.78 304.72,85.56" fill="#2f74c0"/>
<text x="252" y="39.27" font-size="7.8" font-weight="bold" fill="#151515" stroke="#151515" stroke-width="0.1" text-anchor="middle" transform="rotate(-90 252 36.7)">A</text>
<line x1="250.5" y1="41" x2="250.5" y2="45" stroke="#222" stroke-width="0.7"/>
<text x="270.9" y="58.37" font-size="7.8" font-weight="bold" fill="#151515" stroke="#151515" stroke-width="0.1" text-anchor="middle" transform="rotate(-90 270.9 55.8)">B</text>
<line x1="270.2" y1="61.2" x2="270.2" y2="65.3" stroke="#222" stroke-width="0.7"/>
<text x="292.2" y="19.17" font-size="7.8" font-weight="bold" fill="#151515" stroke="#151515" stroke-width="0.1" text-anchor="middle" transform="rotate(-90 292.2 16.6)">C</text>
<line x1="290.8" y1="21" x2="290.8" y2="25" stroke="#222" stroke-width="0.7"/>
</g>
<g>
<clipPath id="ce"><rect x="373.6" y="4" width="135.8" height="118.4"/></clipPath>
<g clip-path="url(#ce)"><g class="cv">
<path d="M374,102.3 C377.28,102.33 387.7,102.4 393.7,102.5 C399.7,102.6 405.62,102.75 410,102.9 C414.38,103.05 416.15,102.95 420,103.4 C423.85,103.85 428.72,104.65 433.1,105.6 C437.48,106.55 441.92,107.87 446.3,109.1 C450.68,110.33 455.02,111.7 459.4,113 C463.78,114.3 468.22,115.8 472.6,116.9 C476.98,118 481.33,118.93 485.7,119.6 C490.07,120.27 494.83,120.67 498.8,120.9 C502.77,121.13 507.72,120.98 509.5,121" fill="none" stroke="#4a4a4a" stroke-width="1" stroke-linejoin="round" stroke-linecap="round"/>
<path d="M377.1,101.4 C379.63,100.55 387.8,97.72 392.3,96.3 C396.8,94.88 401.28,93.47 404.1,92.9 C406.92,92.33 406.95,92.47 409.2,92.9 C411.45,93.33 414.23,94.23 417.6,95.5 C420.97,96.77 424.72,98.57 429.4,100.5 C434.08,102.43 439.82,104.62 445.7,107.1 C451.58,109.58 458.98,113.38 464.7,115.4 C470.42,117.42 477.45,118.57 480,119.2" fill="none" stroke="#45a896" stroke-width="1" stroke-linejoin="round" stroke-linecap="round"/>
<path d="M382.1,102.3 C384.08,102.18 390.33,102.23 394,101.6 C397.67,100.97 401.02,100.18 404.1,98.5 C407.18,96.82 409.68,94.08 412.5,91.5 C415.32,88.92 418.47,85.42 421,83 C423.53,80.58 425.87,78.53 427.7,77 C429.53,75.47 430.65,74.58 432,73.8 C433.35,73.02 434.47,72.38 435.8,72.3 C437.13,72.22 438.55,72.52 440,73.3 C441.45,74.08 442.83,75.13 444.5,77 C446.17,78.87 448.22,81.75 450,84.5 C451.78,87.25 453.63,90.83 455.2,93.5 C456.77,96.17 457.38,97.8 459.4,100.5 C461.42,103.2 464.67,107.07 467.3,109.7 C469.93,112.33 472.13,114.65 475.2,116.3 C478.27,117.95 482.4,118.87 485.7,119.6 C489,120.33 493.45,120.52 495,120.7" fill="none" stroke="#e04848" stroke-width="1" stroke-linejoin="round" stroke-linecap="round"/>
<path d="M404.1,102.4 C406.07,102.3 412.8,102.15 415.9,101.8 C419,101.45 420.68,101.18 422.7,100.3 C424.72,99.42 426.32,97.82 428,96.5 C429.68,95.18 431.38,94.23 432.8,92.4 C434.22,90.57 435.15,88.18 436.5,85.5 C437.85,82.82 439.57,79.97 440.9,76.3 C442.23,72.63 443.4,67.72 444.5,63.5 C445.6,59.28 446.25,55.17 447.5,51 C448.75,46.83 450.35,42.08 452,38.5 C453.65,34.92 455.67,31.55 457.4,29.5 C459.13,27.45 460.77,26.18 462.4,26.2 C464.03,26.22 465.95,28.25 467.2,29.6 C468.45,30.95 469,32.62 469.9,34.3 C470.8,35.98 471.7,37.63 472.6,39.7 C473.5,41.77 474.25,42.9 475.3,46.7 C476.35,50.5 477.53,57.45 478.9,62.5 C480.27,67.55 481.82,72.82 483.5,77 C485.18,81.18 487.23,83.6 489,87.6 C490.77,91.6 492.12,96.73 494.1,101 C496.08,105.27 498.65,110.33 500.9,113.2 C503.15,116.07 506.48,117.37 507.6,118.2" fill="none" stroke="#55e055" stroke-width="1" stroke-linejoin="round" stroke-linecap="round"/>
<path d="M374.5,97.01 L375.8,98.52 L377.1,97.08 L378.4,95.66 L379.7,96.41 L381,97.4 L382.3,95.39 L383.6,94.25 L384.9,94.92 L386.2,96.66 L387.5,94.41 L388.8,92 L390.1,93.63 L391.4,94.26 L392.7,91.78 L394,90.43 L395.3,90.47 L396.6,91.12 L397.9,89.79 L399.2,87.05 L400.5,87.61 L401.8,88.2 L403.1,85.49 L404.4,83.83 L405.7,83.75 L407,84.19 L408.3,81.88 L409.6,79.37 L410.9,80.34 L412.2,80.29 L413.5,76.63 L414.8,73.76 L416.1,75 L417.4,75.28 L418.7,70.77 L420,68.59 L421.3,68.91 L422.6,68.42 L423.9,64.49 L425.2,61.45 L426.5,60.35 L427.8,58.3 L429.1,54.25 L430.4,51.2 L432.05,52.02 L433.7,43.4 L435.35,43.99 L437,35.61 L438.65,36.29 L440.3,27.82 L441.95,29.43 L443.6,21.73 L445.25,23.99 L446.9,17.48 L448.55,21.04 L450.2,15.35 L451.85,17.61 L453.5,11.84 L455.15,15.37 L456.8,11.19 L458.45,14.77 L460.1,8.53 L461.75,15.15 L463.4,11.81 L465.05,19.56 L466.7,22.2 L468,26.75 L469.3,29.24 L470.6,33.51 L471.9,34.35 L473.2,38.66 L474.5,43.6 L475.8,47.28 L477.1,54.42 L478.4,59.84 L479.7,63.38 L481,67.42 L482.3,74.17 L483.6,75.55 L484.9,78.2 L486.2,81.06 L487.5,84.63 L488.2,84 L489.6,90 L491.5,96 L493.6,102.5 L496.2,109.7 L498.8,113 L501.5,116.3 L503.4,115 L505.4,119.6 L506.7,120.9 L508,115.6 L509.5,117" fill="none" stroke="#4040f0" stroke-width="0.85" stroke-linejoin="round" stroke-linecap="round"/>
<path d="M374,101.4 C374.52,101.4 374.62,101.97 377.1,101.4 C379.58,100.83 385.25,99.42 388.9,98 C392.55,96.58 395.62,95.02 399,92.9 C402.38,90.78 406.1,87.97 409.2,85.3 C412.3,82.63 415.07,79.72 417.6,76.9 C420.13,74.08 422.5,71.47 424.4,68.4 C426.3,65.33 427.55,61.7 429,58.5 C430.45,55.3 431.73,52.33 433.1,49.2 C434.47,46.07 435.85,42.63 437.2,39.7 C438.55,36.77 439.85,34.07 441.2,31.6 C442.55,29.13 443.95,26.82 445.3,24.9 C446.65,22.98 447.95,21.45 449.3,20.1 C450.65,18.75 452.05,17.7 453.4,16.8 C454.75,15.9 456.23,15.12 457.4,14.7 C458.57,14.28 459.22,13.73 460.4,14.3 C461.58,14.87 463.37,16.57 464.5,18.1 C465.63,19.63 466.3,21.47 467.2,23.5 C468.1,25.53 469,28.05 469.9,30.3 C470.8,32.55 471.7,34.53 472.6,37 C473.5,39.47 474.25,40.93 475.3,45.1 C476.35,49.27 477.53,56.77 478.9,62 C480.27,67.23 481.82,72.37 483.5,76.5 C485.18,80.63 487.23,82.83 489,86.8 C490.77,90.77 492.12,96.07 494.1,100.3 C496.08,104.53 498.65,109.52 500.9,112.2 C503.15,114.88 506.17,115.52 507.6,116.4 C509.03,117.28 509.18,117.32 509.5,117.5" fill="none" stroke="#2a2a2a" stroke-width="0.85" stroke-linejoin="round" stroke-linecap="round"/>
</g></g>
<line x1="373.6" y1="10.29" x2="376.2" y2="10.29" stroke="#555" stroke-width="0.9"/>
<line x1="373.6" y1="16.6" x2="377.2" y2="16.6" stroke="#333" stroke-width="0.9"/>
<line x1="373.6" y1="22.91" x2="376.2" y2="22.91" stroke="#555" stroke-width="0.9"/>
<line x1="373.6" y1="29.21" x2="376.2" y2="29.21" stroke="#555" stroke-width="0.9"/>
<line x1="373.6" y1="35.52" x2="377.2" y2="35.52" stroke="#333" stroke-width="0.9"/>
<line x1="373.6" y1="41.83" x2="376.2" y2="41.83" stroke="#555" stroke-width="0.9"/>
<line x1="373.6" y1="48.14" x2="376.2" y2="48.14" stroke="#555" stroke-width="0.9"/>
<line x1="373.6" y1="54.44" x2="377.2" y2="54.44" stroke="#333" stroke-width="0.9"/>
<line x1="373.6" y1="60.75" x2="376.2" y2="60.75" stroke="#555" stroke-width="0.9"/>
<line x1="373.6" y1="67.06" x2="376.2" y2="67.06" stroke="#555" stroke-width="0.9"/>
<line x1="373.6" y1="73.36" x2="377.2" y2="73.36" stroke="#333" stroke-width="0.9"/>
<line x1="373.6" y1="79.67" x2="376.2" y2="79.67" stroke="#555" stroke-width="0.9"/>
<line x1="373.6" y1="85.98" x2="376.2" y2="85.98" stroke="#555" stroke-width="0.9"/>
<line x1="373.6" y1="92.28" x2="377.2" y2="92.28" stroke="#333" stroke-width="0.9"/>
<line x1="373.6" y1="98.59" x2="376.2" y2="98.59" stroke="#555" stroke-width="0.9"/>
<line x1="373.6" y1="104.9" x2="376.2" y2="104.9" stroke="#555" stroke-width="0.9"/>
<line x1="373.6" y1="111.21" x2="377.2" y2="111.21" stroke="#333" stroke-width="0.9"/>
<line x1="373.6" y1="117.51" x2="376.2" y2="117.51" stroke="#555" stroke-width="0.9"/>
<text x="372.4" y="19.35" font-size="8" font-weight="bold" fill="#1a1a1a" text-anchor="end">2200</text>
<text x="372.4" y="38.25" font-size="8" font-weight="bold" fill="#1a1a1a" text-anchor="end">2050</text>
<text x="372.4" y="57.15" font-size="8" font-weight="bold" fill="#1a1a1a" text-anchor="end">1900</text>
<text x="372.4" y="76.05" font-size="8" font-weight="bold" fill="#1a1a1a" text-anchor="end">1750</text>
<text x="372.4" y="94.95" font-size="8" font-weight="bold" fill="#1a1a1a" text-anchor="end">1600</text>
<text x="372.4" y="113.85" font-size="8" font-weight="bold" fill="#1a1a1a" text-anchor="end">1450</text>
<line x1="383.6" y1="122.4" x2="383.6" y2="119.2" stroke="#222" stroke-width="0.9"/>
<line x1="393.21" y1="122.4" x2="393.21" y2="119.2" stroke="#222" stroke-width="0.9"/>
<line x1="402.82" y1="122.4" x2="402.82" y2="119.2" stroke="#222" stroke-width="0.9"/>
<line x1="412.43" y1="122.4" x2="412.43" y2="119.2" stroke="#222" stroke-width="0.9"/>
<line x1="422.04" y1="122.4" x2="422.04" y2="119.2" stroke="#222" stroke-width="0.9"/>
<line x1="431.65" y1="122.4" x2="431.65" y2="119.2" stroke="#222" stroke-width="0.9"/>
<line x1="441.26" y1="122.4" x2="441.26" y2="119.2" stroke="#222" stroke-width="0.9"/>
<line x1="450.87" y1="122.4" x2="450.87" y2="119.2" stroke="#222" stroke-width="0.9"/>
<line x1="460.48" y1="122.4" x2="460.48" y2="119.2" stroke="#222" stroke-width="0.9"/>
<line x1="470.09" y1="122.4" x2="470.09" y2="119.2" stroke="#222" stroke-width="0.9"/>
<line x1="479.7" y1="122.4" x2="479.7" y2="119.2" stroke="#222" stroke-width="0.9"/>
<line x1="489.31" y1="122.4" x2="489.31" y2="119.2" stroke="#222" stroke-width="0.9"/>
<line x1="498.92" y1="122.4" x2="498.92" y2="119.2" stroke="#222" stroke-width="0.9"/>
<text x="383.6" y="131.4" font-size="8.2" font-weight="bold" fill="#1a1a1a" text-anchor="middle">580.5</text>
<text x="441.2" y="131.4" font-size="8.2" font-weight="bold" fill="#1a1a1a" text-anchor="middle">577.5</text>
<text x="499" y="131.4" font-size="8.2" font-weight="bold" fill="#1a1a1a" text-anchor="middle">574.5</text>
<text x="441.6" y="142.4" font-size="8.8" font-weight="bold" fill="#1a1a1a" text-anchor="middle">Binding Energy (eV)</text>
<text x="350.7" y="70.2" font-size="8.7" font-weight="bold" fill="#1a1a1a" text-anchor="middle" transform="rotate(-90 350.7 67.3)">Counts</text>
<path d="M373.6,4 H509.4 V122.4" fill="none" stroke="#8c8c8c" stroke-width="1.2"/>
<path d="M373.6,4 V122.4 H509.4" fill="none" stroke="#2a2a2a" stroke-width="1.3"/>
<text x="375.9" y="11.71" font-size="7.7" fill="#111" font-weight="bold" textLength="71" lengthAdjust="spacingAndGlyphs">Chi square: 1.78194</text>
<text x="465.9" y="12.04" font-size="8.6" fill="#a6381f" font-weight="bold" textLength="21.5" lengthAdjust="spacingAndGlyphs">Cr 2p</text>
<text x="494.3" y="13.43" font-size="11" fill="#111" font-weight="bold" textLength="14.4" lengthAdjust="spacingAndGlyphs">(e)</text>
<text x="483.1" y="41.61" font-size="7.9" fill="#3cb44b" font-weight="bold" textLength="26.7" lengthAdjust="spacingAndGlyphs">(Fe, Cr)</text>
<text x="488.3" y="51.11" font-size="7.9" fill="#3cb44b" font-weight="bold" textLength="16.7" lengthAdjust="spacingAndGlyphs">alloy</text>
<text x="400.8" y="53.9" font-size="7.9" fill="#c0262c" font-weight="bold" textLength="20.2" lengthAdjust="spacingAndGlyphs"><tspan>Cr</tspan><tspan font-size="5.21" dy="1.9">2</tspan><tspan dy="-1.9">O</tspan><tspan font-size="5.21" dy="1.9">3</tspan></text>
<text x="386.4" y="75.4" font-size="7.9" fill="#2f74c0" font-weight="bold" textLength="17.7" lengthAdjust="spacingAndGlyphs"><tspan>CrO</tspan><tspan font-size="5.21" dy="1.9">3</tspan></text>
<line x1="486" y1="52" x2="473.53" y2="60.18" stroke="#3cb44b" stroke-width="0.9"/>
<polygon points="470.6,62.1 472.9,58.32 474.99,61.5" fill="#3cb44b"/>
<line x1="418.5" y1="57.5" x2="429.59" y2="74.57" stroke="#c0262c" stroke-width="0.9"/>
<polygon points="431.5,77.5 427.73,75.18 430.91,73.11" fill="#c0262c"/>
<line x1="394.8" y1="79.4" x2="402.48" y2="94.1" stroke="#2f74c0" stroke-width="0.9"/>
<polygon points="404.1,97.2 400.56,94.53 403.93,92.77" fill="#2f74c0"/>
<text x="463.1" y="17.27" font-size="7.8" font-weight="bold" fill="#151515" stroke="#151515" stroke-width="0.1" text-anchor="middle" transform="rotate(-90 463.1 14.7)">A</text>
<line x1="462.4" y1="21.2" x2="462.4" y2="24.4" stroke="#222" stroke-width="0.7"/>
<text x="437.5" y="64.17" font-size="7.8" font-weight="bold" fill="#151515" stroke="#151515" stroke-width="0.1" text-anchor="middle" transform="rotate(-90 437.5 61.6)">B</text>
<line x1="437" y1="66" x2="437" y2="70" stroke="#222" stroke-width="0.7"/>
<text x="410" y="84.57" font-size="7.8" font-weight="bold" fill="#151515" stroke="#151515" stroke-width="0.1" text-anchor="middle" transform="rotate(-90 410 82)">C</text>
<line x1="410" y1="87.9" x2="410" y2="91.3" stroke="#222" stroke-width="0.7"/>
</g>
<g>
<clipPath id="cf"><rect x="546.5" y="4.2" width="136.1" height="118.5"/></clipPath>
<g clip-path="url(#cf)"><g class="cv">
<path d="M546.5,107.7 L550.1,91.5 L554.1,91.5 L557.2,101.7 L559.8,109.8 L564.3,85.4 L567.3,101.7 L569.3,103.7 L573.4,85.4 L576.4,83.4 L578.5,83.4 L580.5,100.6 L582.5,99.6 L585.6,71.2 L589.6,71.2 L593.7,79.3 L596.7,63.1 L597.8,40.1 L599.3,60 L601.6,53 L606.1,45.4 L608.4,53 L610.7,34 L611.7,43.8 L614.2,48 L616.8,37.9 L619.3,26.9 L621,32 L623.5,30.3 L626,22.7 L628.6,19.3 L630.3,26.9 L632,32 L633.6,28.6 L636.2,39.6 L637.9,20.1 L639.6,32 L641.3,25.2 L642.9,37 L645.5,28.6 L647.2,43.8 L649.2,35.3 L651.4,50.5 L653.1,43.8 L654.8,57.3 L656.6,69.2 L658.6,77.3 L660.7,75.3 L662.7,73.3 L664.7,85.4 L667.1,85.4 L668.8,95.6 L671.8,108.8 L673.8,104.7 L677.9,102.7 L680.9,106.7 L683,108.8" fill="none" stroke="#4040f0" stroke-width="0.9" stroke-linejoin="round" stroke-linecap="round"/>
<line x1="546.5" y1="109.4" x2="675.8" y2="109.4" stroke="#8a8a8a" stroke-width="1.4"/>
<path d="M583.2,88.1 C584.17,86.75 587.22,82.55 589,80 C590.78,77.45 592.07,75.13 593.9,72.8 C595.73,70.47 597.98,67.75 600,66 C602.02,64.25 604.07,63.07 606,62.3 C607.93,61.53 609.77,61.37 611.6,61.4 C613.43,61.43 615.42,61.78 617,62.5 C618.58,63.22 619.43,64.12 621.1,65.7 C622.77,67.28 625.03,69.45 627,72 C628.97,74.55 629.93,77.13 632.9,81 C635.87,84.87 640.85,91.25 644.8,95.2 C648.75,99.15 652.67,102.4 656.6,104.7 C660.53,107 665.25,108.22 668.4,109 C671.55,109.78 674.32,109.33 675.5,109.4" fill="none" stroke="#e04848" stroke-width="1" stroke-linejoin="round" stroke-linecap="round"/>
<path d="M583.2,109.4 C585.57,108.62 593.05,107.45 597.4,104.7 C601.75,101.95 605.35,98.42 609.3,92.9 C613.25,87.38 617.55,77.52 621.1,71.6 C624.65,65.68 628.28,60.5 630.6,57.4 C632.92,54.3 633.43,54.08 635,53 C636.57,51.92 638.33,50.98 640,50.9 C641.67,50.82 643.5,51.65 645,52.5 C646.5,53.35 647.47,54.42 649,56 C650.53,57.58 651.75,57.83 654.2,62 C656.65,66.17 661.23,76.17 663.7,81 C666.17,85.83 667.22,87.75 669,91 C670.78,94.25 673.5,98.92 674.4,100.5" fill="none" stroke="#55e055" stroke-width="1" stroke-linejoin="round" stroke-linecap="round"/>
<path d="M547,109 C548.7,108.6 553.13,108.1 557.2,106.6 C561.27,105.1 567.07,103.08 571.4,100 C575.73,96.92 579.45,92.63 583.2,88.1 C586.95,83.57 590.73,77.13 593.9,72.8 C597.07,68.47 599.85,65.73 602.2,62.1 C604.55,58.47 606.03,54.68 608,51 C609.97,47.32 612,43.33 614,40 C616,36.67 618,33.17 620,31 C622,28.83 623.83,27.87 626,27 C628.17,26.13 631,25.72 633,25.8 C635,25.88 636.03,25.88 638,27.5 C639.97,29.12 642.68,32.2 644.8,35.5 C646.92,38.8 648.73,42.97 650.7,47.3 C652.67,51.63 654.72,57.05 656.6,61.5 C658.48,65.95 660.32,70.02 662,74 C663.68,77.98 665.2,82.07 666.7,85.4 C668.2,88.73 669.53,91.48 671,94 C672.47,96.52 674.75,99.42 675.5,100.5" fill="none" stroke="#2a2a2a" stroke-width="1" stroke-linejoin="round" stroke-linecap="round"/>
</g></g>
<line x1="546.5" y1="11.8" x2="550.1" y2="11.8" stroke="#333" stroke-width="0.9"/>
<line x1="546.5" y1="19.19" x2="549.1" y2="19.19" stroke="#555" stroke-width="0.9"/>
<line x1="546.5" y1="26.57" x2="550.1" y2="26.57" stroke="#333" stroke-width="0.9"/>
<line x1="546.5" y1="33.96" x2="549.1" y2="33.96" stroke="#555" stroke-width="0.9"/>
<line x1="546.5" y1="41.34" x2="550.1" y2="41.34" stroke="#333" stroke-width="0.9"/>
<line x1="546.5" y1="48.73" x2="549.1" y2="48.73" stroke="#555" stroke-width="0.9"/>
<line x1="546.5" y1="56.12" x2="550.1" y2="56.12" stroke="#333" stroke-width="0.9"/>
<line x1="546.5" y1="63.5" x2="549.1" y2="63.5" stroke="#555" stroke-width="0.9"/>
<line x1="546.5" y1="70.89" x2="550.1" y2="70.89" stroke="#333" stroke-width="0.9"/>
<line x1="546.5" y1="78.27" x2="549.1" y2="78.27" stroke="#555" stroke-width="0.9"/>
<line x1="546.5" y1="85.66" x2="550.1" y2="85.66" stroke="#333" stroke-width="0.9"/>
<line x1="546.5" y1="93.05" x2="549.1" y2="93.05" stroke="#555" stroke-width="0.9"/>
<line x1="546.5" y1="100.43" x2="550.1" y2="100.43" stroke="#333" stroke-width="0.9"/>
<line x1="546.5" y1="107.82" x2="549.1" y2="107.82" stroke="#555" stroke-width="0.9"/>
<line x1="546.5" y1="115.2" x2="550.1" y2="115.2" stroke="#333" stroke-width="0.9"/>
<text x="545.3" y="14.55" font-size="8" font-weight="bold" fill="#1a1a1a" text-anchor="end">1380</text>
<text x="545.3" y="29.35" font-size="8" font-weight="bold" fill="#1a1a1a" text-anchor="end">1340</text>
<text x="545.3" y="44.15" font-size="8" font-weight="bold" fill="#1a1a1a" text-anchor="end">1300</text>
<text x="545.3" y="58.85" font-size="8" font-weight="bold" fill="#1a1a1a" text-anchor="end">1260</text>
<text x="545.3" y="73.65" font-size="8" font-weight="bold" fill="#1a1a1a" text-anchor="end">1220</text>
<text x="545.3" y="88.45" font-size="8" font-weight="bold" fill="#1a1a1a" text-anchor="end">1180</text>
<text x="545.3" y="103.15" font-size="8" font-weight="bold" fill="#1a1a1a" text-anchor="end">1140</text>
<text x="545.3" y="117.95" font-size="8" font-weight="bold" fill="#1a1a1a" text-anchor="end">1100</text>
<line x1="549" y1="122.7" x2="549" y2="119.5" stroke="#222" stroke-width="0.9"/>
<line x1="559.1" y1="122.7" x2="559.1" y2="119.5" stroke="#222" stroke-width="0.9"/>
<line x1="569.2" y1="122.7" x2="569.2" y2="119.5" stroke="#222" stroke-width="0.9"/>
<line x1="579.3" y1="122.7" x2="579.3" y2="119.5" stroke="#222" stroke-width="0.9"/>
<line x1="589.4" y1="122.7" x2="589.4" y2="119.5" stroke="#222" stroke-width="0.9"/>
<line x1="599.5" y1="122.7" x2="599.5" y2="119.5" stroke="#222" stroke-width="0.9"/>
<line x1="609.6" y1="122.7" x2="609.6" y2="119.5" stroke="#222" stroke-width="0.9"/>
<line x1="619.7" y1="122.7" x2="619.7" y2="119.5" stroke="#222" stroke-width="0.9"/>
<line x1="629.8" y1="122.7" x2="629.8" y2="119.5" stroke="#222" stroke-width="0.9"/>
<line x1="639.9" y1="122.7" x2="639.9" y2="119.5" stroke="#222" stroke-width="0.9"/>
<line x1="650" y1="122.7" x2="650" y2="119.5" stroke="#222" stroke-width="0.9"/>
<line x1="660.1" y1="122.7" x2="660.1" y2="119.5" stroke="#222" stroke-width="0.9"/>
<line x1="670.2" y1="122.7" x2="670.2" y2="119.5" stroke="#222" stroke-width="0.9"/>
<line x1="680.3" y1="122.7" x2="680.3" y2="119.5" stroke="#222" stroke-width="0.9"/>
<text x="559.1" y="130.8" font-size="8.2" font-weight="bold" fill="#1a1a1a" text-anchor="middle">580.5</text>
<text x="609" y="130.8" font-size="8.2" font-weight="bold" fill="#1a1a1a" text-anchor="middle">578</text>
<text x="660.2" y="130.8" font-size="8.2" font-weight="bold" fill="#1a1a1a" text-anchor="middle">575.5</text>
<text x="610.5" y="142.4" font-size="8.8" font-weight="bold" fill="#1a1a1a" text-anchor="middle">Binding Energy (eV)</text>
<text x="523" y="70.2" font-size="8.7" font-weight="bold" fill="#1a1a1a" text-anchor="middle" transform="rotate(-90 523 67.3)">Counts</text>
<path d="M546.5,4.2 H682.6 V122.7" fill="none" stroke="#8c8c8c" stroke-width="1.2"/>
<path d="M546.5,4.2 V122.7 H682.6" fill="none" stroke="#2a2a2a" stroke-width="1.3"/>
<text x="549.6" y="12.21" font-size="7.7" fill="#111" font-weight="bold" textLength="64.4" lengthAdjust="spacingAndGlyphs">Chi square: 2.4476</text>
<text x="630.6" y="13.44" font-size="8.6" fill="#a6381f" font-weight="bold" textLength="21" lengthAdjust="spacingAndGlyphs">Cr 2p</text>
<text x="669.6" y="14.13" font-size="11" fill="#111" font-weight="bold" textLength="12.1" lengthAdjust="spacingAndGlyphs">(f)</text>
<text x="656.1" y="29.81" font-size="7.9" fill="#3cb44b" font-weight="bold" textLength="26.7" lengthAdjust="spacingAndGlyphs">(Fe, Cr)</text>
<text x="661.3" y="39.31" font-size="7.9" fill="#3cb44b" font-weight="bold" textLength="15.7" lengthAdjust="spacingAndGlyphs">alloy</text>
<text x="573.8" y="51.6" font-size="7.9" fill="#c0262c" font-weight="bold" textLength="21.5" lengthAdjust="spacingAndGlyphs"><tspan>Cr</tspan><tspan font-size="5.21" dy="1.9">2</tspan><tspan dy="-1.9">O</tspan><tspan font-size="5.21" dy="1.9">3</tspan></text>
<line x1="663" y1="42" x2="649.12" y2="61.64" stroke="#3cb44b" stroke-width="0.9"/>
<polygon points="647.1,64.5 647.86,60.14 650.96,62.33" fill="#3cb44b"/>
<line x1="590.3" y1="58.6" x2="601.32" y2="73.49" stroke="#c0262c" stroke-width="0.9"/>
<polygon points="603.4,76.3 599.49,74.22 602.55,71.95" fill="#c0262c"/>
<text x="611.6" y="52.27" font-size="7.8" font-weight="bold" fill="#151515" stroke="#151515" stroke-width="0.1" text-anchor="middle" transform="rotate(-90 611.6 49.7)">B</text>
<line x1="611" y1="54" x2="611" y2="58" stroke="#222" stroke-width="0.7"/>
<text x="641.2" y="43.97" font-size="7.8" font-weight="bold" fill="#151515" stroke="#151515" stroke-width="0.1" text-anchor="middle" transform="rotate(-90 641.2 41.4)">A</text>
<line x1="641" y1="46" x2="641" y2="50" stroke="#222" stroke-width="0.7"/>
</g>
<g>
<clipPath id="cc"><rect x="30.3" y="149.3" width="136.4" height="122"/></clipPath>
<g clip-path="url(#cc)"><g class="cv">
<path d="M30.5,215.95 C30.67,215.65 31.17,214.33 31.5,214.16 C31.83,213.99 32.17,214.76 32.5,214.93 C32.83,215.1 33.17,214.91 33.5,215.19 C33.83,215.46 34.17,216.38 34.5,216.58 C34.83,216.79 35.17,216.73 35.5,216.43 C35.83,216.13 36.17,215.24 36.5,214.79 C36.83,214.34 37.17,214.06 37.5,213.74 C37.83,213.43 38.17,212.83 38.5,212.89 C38.83,212.95 39.17,213.75 39.5,214.12 C39.83,214.49 40.17,214.86 40.5,215.1 C40.83,215.33 41.17,215.8 41.5,215.51 C41.83,215.23 42.17,214.14 42.5,213.39 C42.83,212.64 43.17,211.53 43.5,211 C43.83,210.47 44.17,210.07 44.5,210.22 C44.83,210.37 45.17,211.62 45.5,211.9 C45.83,212.18 46.17,211.77 46.5,211.89 C46.83,212.02 47.17,212.8 47.5,212.66 C47.83,212.52 48.17,211.81 48.5,211.06 C48.83,210.31 49.17,208.56 49.5,208.17 C49.83,207.78 50.17,208.72 50.5,208.7 C50.83,208.67 51.17,207.7 51.5,208 C51.83,208.3 52.17,210.1 52.5,210.49 C52.83,210.88 53.17,210.8 53.5,210.33 C53.83,209.86 54.17,208.27 54.5,207.67 C54.83,207.06 55.17,207 55.5,206.71 C55.83,206.42 56.17,206.16 56.5,205.91 C56.83,205.66 57.17,205.04 57.5,205.21 C57.83,205.37 58.17,206.85 58.5,206.91 C58.83,206.97 59.17,205.64 59.5,205.55 C59.83,205.46 60.17,206.65 60.5,206.36 C60.83,206.07 61.17,204.33 61.5,203.81 C61.83,203.3 62.17,203.59 62.5,203.29 C62.83,202.99 63.17,202.02 63.5,202.01 C63.83,202 64.17,202.98 64.5,203.21 C64.83,203.44 65.17,203.66 65.5,203.38 C65.83,203.09 66.17,202.31 66.5,201.49 C66.83,200.67 67.17,198.93 67.5,198.44 C67.83,197.94 68.17,198.48 68.5,198.52 C68.83,198.56 69.17,198.73 69.5,198.69 C69.83,198.66 70.17,198.49 70.5,198.3 C70.83,198.1 71.17,197.8 71.5,197.5 C71.83,197.2 72.17,197.12 72.5,196.49 C72.83,195.86 73.17,194.35 73.5,193.73 C73.83,193.11 74.17,192.98 74.5,192.77 C74.83,192.56 75.17,192.5 75.5,192.48 C75.83,192.46 76.17,192.85 76.5,192.64 C76.83,192.44 77.17,191.79 77.5,191.22 C77.83,190.65 78.17,189.89 78.5,189.24 C78.83,188.58 79.17,187.78 79.5,187.3 C79.83,186.82 80.17,186.6 80.5,186.35 C80.83,186.1 81.17,185.73 81.5,185.79 C81.83,185.84 82.17,186.72 82.5,186.68 C82.83,186.63 83.17,185.98 83.5,185.52 C83.83,185.06 84.17,184.68 84.5,183.92 C84.83,183.16 85.17,181.79 85.5,180.96 C85.83,180.12 86.17,179.31 86.5,178.91 C86.83,178.5 87.17,178.57 87.5,178.52 C87.83,178.47 88.17,178.76 88.5,178.63 C88.83,178.5 89.17,178.01 89.5,177.73 C89.83,177.44 90.17,177.49 90.5,176.92 C90.83,176.35 91.17,175.04 91.5,174.32 C91.83,173.59 92.17,173.07 92.5,172.57 C92.83,172.07 93.17,171.34 93.5,171.32 C93.83,171.3 94.17,172.6 94.5,172.47 C94.83,172.34 95.17,171.03 95.5,170.54 C95.83,170.04 96.17,170.2 96.5,169.5 C96.83,168.8 97.17,167.08 97.5,166.34 C97.83,165.59 98.17,165.27 98.5,165.03 C98.83,164.79 99.17,164.9 99.5,164.9 C99.83,164.9 100.17,164.98 100.5,165.02 C100.83,165.06 101.17,165.38 101.5,165.15 C101.83,164.93 102.17,164.45 102.5,163.68 C102.83,162.91 103.17,161.12 103.5,160.53 C103.83,159.94 104.17,160 104.5,160.14 C104.83,160.28 105.17,160.99 105.5,161.36 C105.83,161.72 106.17,162.17 106.5,162.34 C106.83,162.51 107.17,162.5 107.5,162.36 C107.83,162.22 108.17,161.69 108.5,161.49 C108.83,161.3 109.17,161.45 109.5,161.16 C109.83,160.87 110.17,159.79 110.5,159.75 C110.83,159.7 111.17,160.24 111.5,160.9 C111.83,161.55 112.17,163.18 112.5,163.69 C112.83,164.2 113.17,163.78 113.5,163.94 C113.83,164.09 114.17,164.8 114.5,164.61 C114.83,164.41 115.17,162.86 115.5,162.79 C115.83,162.72 116.17,163.83 116.5,164.19 C116.83,164.55 117.17,164.25 117.5,164.95 C117.83,165.66 118.17,167.6 118.5,168.41 C118.83,169.21 119.17,169.54 119.5,169.8 C119.83,170.06 120.17,170.12 120.5,169.97 C120.83,169.83 121.17,168.93 121.5,168.91 C121.83,168.89 122.17,169.22 122.5,169.87 C122.83,170.51 123.17,171.65 123.5,172.76 C123.83,173.86 124.17,175.32 124.5,176.49 C124.83,177.67 125.17,179.17 125.5,179.8 C125.83,180.43 126.17,179.94 126.5,180.27 C126.83,180.6 127.17,181.06 127.5,181.8 C127.83,182.54 128.17,183.72 128.5,184.71 C128.83,185.7 129.17,186.45 129.5,187.72 C129.83,188.99 130.17,191.03 130.5,192.34 C130.83,193.65 131.17,194.51 131.5,195.59 C131.83,196.66 132.17,197.98 132.5,198.8 C132.83,199.61 133.17,199.3 133.5,200.47 C133.83,201.64 134.17,204.19 134.5,205.83 C134.83,207.47 135.17,208.68 135.5,210.32 C135.83,211.96 136.17,214.16 136.5,215.66 C136.83,217.16 137.17,218.3 137.5,219.31 C137.83,220.32 138.17,220.85 138.5,221.71 C138.83,222.57 139.17,223.63 139.5,224.45 C139.83,225.28 140.17,225.68 140.5,226.65 C140.83,227.63 141.17,229.24 141.5,230.3 C141.83,231.35 142.17,231.87 142.5,232.98 C142.83,234.1 143.17,235.96 143.5,237 C143.83,238.04 144.17,238.73 144.5,239.21 C144.83,239.7 145.17,239.47 145.5,239.91 C145.83,240.35 146.17,241 146.5,241.86 C146.83,242.71 147.17,244.1 147.5,245.03 C147.83,245.96 148.17,246.52 148.5,247.45 C148.83,248.37 149.17,249.94 149.5,250.6 C149.83,251.27 150.17,251.44 150.5,251.44 C150.83,251.43 151.17,250.32 151.5,250.55 C151.83,250.78 152.17,251.95 152.5,252.84 C152.83,253.72 153.17,254.97 153.5,255.87 C153.83,256.77 154.17,257.46 154.5,258.24 C154.83,259.02 155.17,260.04 155.5,260.54 C155.83,261.04 156.17,261.15 156.5,261.25 C156.83,261.35 157.17,261.31 157.5,261.16 C157.83,261.01 158.17,260.29 158.5,260.36 C158.83,260.44 159.17,260.88 159.5,261.61 C159.83,262.34 160.17,264.1 160.5,264.74 C160.83,265.37 161.17,265.28 161.5,265.4 C161.83,265.52 162.17,265.55 162.5,265.46 C162.83,265.37 163.17,265.07 163.5,264.87 C163.83,264.66 164.17,263.94 164.5,264.24 C164.83,264.53 165.17,265.97 165.5,266.66 C165.83,267.34 166.33,268.06 166.5,268.34" fill="none" stroke="#4040f0" stroke-width="0.75" stroke-linejoin="round" stroke-linecap="round"/>
<path d="M30.5,217.3 C34.03,217.3 45.8,217.1 51.7,217.3 C57.6,217.5 61.17,217.72 65.9,218.5 C70.63,219.28 75.37,220.3 80.1,222 C84.83,223.7 89.57,226.02 94.3,228.7 C99.03,231.38 104.17,234.75 108.5,238.1 C112.83,241.45 116.37,245.83 120.3,248.8 C124.23,251.77 127.77,253.93 132.1,255.9 C136.43,257.87 141.95,259.62 146.3,260.6 C150.65,261.58 154.83,261.57 158.2,261.8 C161.57,262.03 165.12,261.97 166.5,262" fill="none" stroke="#4a4a4a" stroke-width="1" stroke-linejoin="round" stroke-linecap="round"/>
<path d="M63,204.4 C63.58,203.88 65.25,202.4 66.5,201.3 C67.75,200.2 68.92,198.75 70.5,197.8 C72.08,196.85 74.18,195.67 76,195.6 C77.82,195.53 79.6,196.08 81.4,197.4 C83.2,198.72 85.37,201.8 86.8,203.5 C88.23,205.2 88.88,206.02 90,207.6 C91.12,209.18 92.4,211.18 93.5,213 C94.6,214.82 95.68,216.95 96.6,218.5 C97.52,220.05 97.68,220.38 99,222.3 C100.32,224.22 102.53,227.37 104.5,230 C106.47,232.63 108.8,235.6 110.8,238.1 C112.8,240.6 114.52,242.82 116.5,245 C118.48,247.18 120.1,249.38 122.7,251.2 C125.3,253.02 130.53,255.12 132.1,255.9" fill="none" stroke="#55e055" stroke-width="1" stroke-linejoin="round" stroke-linecap="round"/>
<path d="M87.2,225.1 C88,225.35 90.43,226.4 92,226.6 C93.57,226.8 95.18,226.77 96.6,226.3 C98.02,225.83 99.32,224.78 100.5,223.8 C101.68,222.82 102.37,222.2 103.7,220.4 C105.03,218.6 107.2,215.4 108.5,213 C109.8,210.6 109.93,208.83 111.5,206 C113.07,203.17 116.23,198.67 117.9,196 C119.57,193.33 120.32,191.4 121.5,190 C122.68,188.6 123.92,187.73 125,187.6 C126.08,187.47 127,188.02 128,189.2 C129,190.38 130.08,192.4 131,194.7 C131.92,197 133.08,201.62 133.5,203" fill="none" stroke="#45a896" stroke-width="1" stroke-linejoin="round" stroke-linecap="round"/>
<path d="M63.8,218.4 C65.15,218.38 69.43,218.75 71.9,218.3 C74.37,217.85 76.57,217.03 78.6,215.7 C80.63,214.37 82.52,212.33 84.1,210.3 C85.68,208.27 87.08,205.38 88.1,203.5 C89.12,201.62 89.48,200.67 90.2,199 C90.92,197.33 91.43,195.5 92.4,193.5 C93.37,191.5 94.82,188.7 96,187 C97.18,185.3 98.52,184.07 99.5,183.3 C100.48,182.53 100.9,182.15 101.9,182.4 C102.9,182.65 104.2,183.15 105.5,184.8 C106.8,186.45 108.52,189.43 109.7,192.3 C110.88,195.17 111.55,198.22 112.6,202 C113.65,205.78 114.93,211.25 116,215 C117.07,218.75 118,221.5 119,224.5 C120,227.5 120.98,230.42 122,233 C123.02,235.58 124.1,237.65 125.1,240 C126.1,242.35 126.72,244.93 128,247.1 C129.28,249.27 131.02,251.42 132.8,253 C134.58,254.58 136.73,255.52 138.7,256.6 C140.67,257.68 142.38,258.72 144.6,259.5 C146.82,260.28 150.77,261 152,261.3" fill="none" stroke="#e04848" stroke-width="1" stroke-linejoin="round" stroke-linecap="round"/>
<path d="M30.5,217.3 C32.45,216.83 37.88,216.02 42.2,214.5 C46.52,212.98 52.42,210.4 56.4,208.2 C60.38,206 63.25,203.5 66.1,201.3 C68.95,199.1 71.13,197.28 73.5,195 C75.87,192.72 78.05,190.08 80.3,187.6 C82.55,185.12 84.75,182.7 87,180.1 C89.25,177.5 91.97,174.27 93.8,172 C95.63,169.73 96.67,168.03 98,166.5 C99.33,164.97 100.4,163.73 101.8,162.8 C103.2,161.87 104.73,161.07 106.4,160.9 C108.07,160.73 109.9,161 111.8,161.8 C113.7,162.6 116.03,164.05 117.8,165.7 C119.57,167.35 121.13,169.68 122.4,171.7 C123.67,173.72 124.52,175.77 125.4,177.8 C126.28,179.83 126.93,181.87 127.7,183.9 C128.47,185.93 129.27,187.9 130,190 C130.73,192.1 131.15,192.95 132.1,196.5 C133.05,200.05 134.52,206.73 135.7,211.3 C136.88,215.87 137.43,218.63 139.2,223.9 C140.97,229.17 143.93,237.57 146.3,242.9 C148.67,248.23 151.5,252.75 153.4,255.9 C155.3,259.05 156.98,260.82 157.7,261.8" fill="none" stroke="#2a2a2a" stroke-width="0.8" stroke-linejoin="round" stroke-linecap="round"/>
</g></g>
<line x1="30.3" y1="157.4" x2="33.9" y2="157.4" stroke="#333" stroke-width="0.9"/>
<line x1="30.3" y1="166.18" x2="32.9" y2="166.18" stroke="#555" stroke-width="0.9"/>
<line x1="30.3" y1="174.95" x2="33.9" y2="174.95" stroke="#333" stroke-width="0.9"/>
<line x1="30.3" y1="183.73" x2="32.9" y2="183.73" stroke="#555" stroke-width="0.9"/>
<line x1="30.3" y1="192.5" x2="33.9" y2="192.5" stroke="#333" stroke-width="0.9"/>
<line x1="30.3" y1="201.28" x2="32.9" y2="201.28" stroke="#555" stroke-width="0.9"/>
<line x1="30.3" y1="210.05" x2="33.9" y2="210.05" stroke="#333" stroke-width="0.9"/>
<line x1="30.3" y1="218.83" x2="32.9" y2="218.83" stroke="#555" stroke-width="0.9"/>
<line x1="30.3" y1="227.6" x2="33.9" y2="227.6" stroke="#333" stroke-width="0.9"/>
<line x1="30.3" y1="236.38" x2="32.9" y2="236.38" stroke="#555" stroke-width="0.9"/>
<line x1="30.3" y1="245.15" x2="33.9" y2="245.15" stroke="#333" stroke-width="0.9"/>
<line x1="30.3" y1="253.93" x2="32.9" y2="253.93" stroke="#555" stroke-width="0.9"/>
<line x1="30.3" y1="262.7" x2="33.9" y2="262.7" stroke="#333" stroke-width="0.9"/>
<text x="29.1" y="160.15" font-size="8" font-weight="bold" fill="#1a1a1a" text-anchor="end">9000</text>
<text x="29.1" y="177.7" font-size="8" font-weight="bold" fill="#1a1a1a" text-anchor="end">8000</text>
<text x="29.1" y="195.25" font-size="8" font-weight="bold" fill="#1a1a1a" text-anchor="end">7000</text>
<text x="29.1" y="212.8" font-size="8" font-weight="bold" fill="#1a1a1a" text-anchor="end">6000</text>
<text x="29.1" y="230.35" font-size="8" font-weight="bold" fill="#1a1a1a" text-anchor="end">5000</text>
<text x="29.1" y="247.9" font-size="8" font-weight="bold" fill="#1a1a1a" text-anchor="end">4000</text>
<text x="29.1" y="265.45" font-size="8" font-weight="bold" fill="#1a1a1a" text-anchor="end">3000</text>
<line x1="38.1" y1="271.3" x2="38.1" y2="268.1" stroke="#222" stroke-width="0.9"/>
<line x1="46.07" y1="271.3" x2="46.07" y2="268.1" stroke="#222" stroke-width="0.9"/>
<line x1="54.04" y1="271.3" x2="54.04" y2="268.1" stroke="#222" stroke-width="0.9"/>
<line x1="62.01" y1="271.3" x2="62.01" y2="268.1" stroke="#222" stroke-width="0.9"/>
<line x1="69.98" y1="271.3" x2="69.98" y2="268.1" stroke="#222" stroke-width="0.9"/>
<line x1="77.95" y1="271.3" x2="77.95" y2="268.1" stroke="#222" stroke-width="0.9"/>
<line x1="85.92" y1="271.3" x2="85.92" y2="268.1" stroke="#222" stroke-width="0.9"/>
<line x1="93.89" y1="271.3" x2="93.89" y2="268.1" stroke="#222" stroke-width="0.9"/>
<line x1="101.86" y1="271.3" x2="101.86" y2="268.1" stroke="#222" stroke-width="0.9"/>
<line x1="109.83" y1="271.3" x2="109.83" y2="268.1" stroke="#222" stroke-width="0.9"/>
<line x1="117.8" y1="271.3" x2="117.8" y2="268.1" stroke="#222" stroke-width="0.9"/>
<line x1="125.77" y1="271.3" x2="125.77" y2="268.1" stroke="#222" stroke-width="0.9"/>
<line x1="133.74" y1="271.3" x2="133.74" y2="268.1" stroke="#222" stroke-width="0.9"/>
<line x1="141.71" y1="271.3" x2="141.71" y2="268.1" stroke="#222" stroke-width="0.9"/>
<line x1="149.68" y1="271.3" x2="149.68" y2="268.1" stroke="#222" stroke-width="0.9"/>
<line x1="157.65" y1="271.3" x2="157.65" y2="268.1" stroke="#222" stroke-width="0.9"/>
<text x="38.1" y="280.1" font-size="8.2" font-weight="bold" fill="#1a1a1a" text-anchor="middle">715.5</text>
<text x="86" y="280.1" font-size="8.2" font-weight="bold" fill="#1a1a1a" text-anchor="middle">712.5</text>
<text x="141.7" y="280.1" font-size="8.2" font-weight="bold" fill="#1a1a1a" text-anchor="middle">709</text>
<text x="99.4" y="291.3" font-size="8.8" font-weight="bold" fill="#1a1a1a" text-anchor="middle">Binding Energy (eV)</text>
<text x="6.4" y="208.7" font-size="8.7" font-weight="bold" fill="#1a1a1a" text-anchor="middle" transform="rotate(-90 6.4 205.8)">Counts</text>
<path d="M30.3,149.3 H166.7 V271.3" fill="none" stroke="#8c8c8c" stroke-width="1.2"/>
<path d="M30.3,149.3 V271.3 H166.7" fill="none" stroke="#2a2a2a" stroke-width="1.3"/>
<text x="33.2" y="157.21" font-size="7.7" fill="#111" font-weight="bold" textLength="69.4" lengthAdjust="spacingAndGlyphs">Chi square: 1.85067</text>
<text x="112.7" y="156.94" font-size="8.6" fill="#a6381f" font-weight="bold" textLength="20.7" lengthAdjust="spacingAndGlyphs">Fe 2p</text>
<text x="151.1" y="159.13" font-size="11" fill="#111" font-weight="bold" textLength="13.2" lengthAdjust="spacingAndGlyphs">(c)</text>
<text x="125" y="174.1" font-size="7.9" fill="#c0262c" font-weight="bold" textLength="20.4" lengthAdjust="spacingAndGlyphs"><tspan>Fe</tspan><tspan font-size="5.21" dy="1.9">2</tspan><tspan dy="-1.9">O</tspan><tspan font-size="5.21" dy="1.9">3</tspan></text>
<text x="37" y="197.81" font-size="7.9" fill="#3cb44b" font-weight="bold" textLength="26.2" lengthAdjust="spacingAndGlyphs">FeOOH</text>
<text x="131" y="250.7" font-size="7.9" fill="#2f74c0" font-weight="bold" textLength="19.1" lengthAdjust="spacingAndGlyphs"><tspan>Fe</tspan><tspan font-size="5.21" dy="1.9">3</tspan><tspan dy="-1.9">O</tspan><tspan font-size="5.21" dy="1.9">4</tspan></text>
<line x1="50.5" y1="204.2" x2="63.16" y2="214.23" stroke="#3cb44b" stroke-width="0.9"/>
<polygon points="65.9,216.4 61.58,215.41 63.94,212.43" fill="#3cb44b"/>
<line x1="135.2" y1="174.7" x2="98.95" y2="208.9" stroke="#c0262c" stroke-width="0.9"/>
<polygon points="96.4,211.3 98.01,207.17 100.61,209.94" fill="#c0262c"/>
<line x1="141.6" y1="252.3" x2="125.25" y2="267.7" stroke="#2f74c0" stroke-width="0.9"/>
<polygon points="122.7,270.1 124.31,265.97 126.91,268.74" fill="#2f74c0"/>
<text x="79.8" y="187.27" font-size="7.8" font-weight="bold" fill="#151515" stroke="#151515" stroke-width="0.1" text-anchor="middle" transform="rotate(-90 79.8 184.7)">A</text>
<line x1="78.3" y1="190" x2="78.3" y2="194.6" stroke="#222" stroke-width="0.7"/>
<text x="104.1" y="175.07" font-size="7.8" font-weight="bold" fill="#151515" stroke="#151515" stroke-width="0.1" text-anchor="middle" transform="rotate(-90 104.1 172.5)">B</text>
<line x1="104.1" y1="177.8" x2="104.1" y2="181.6" stroke="#222" stroke-width="0.7"/>
<text x="127" y="181.17" font-size="7.8" font-weight="bold" fill="#151515" stroke="#151515" stroke-width="0.1" text-anchor="middle" transform="rotate(-90 127 178.6)">C</text>
<line x1="125.8" y1="183.5" x2="125.8" y2="187.5" stroke="#222" stroke-width="0.7"/>
</g>
<g>
<clipPath id="cd"><rect x="203.8" y="148.6" width="134.6" height="122.3"/></clipPath>
<g clip-path="url(#cd)"><g class="cv">
<path d="M204,220.4 C204.17,220.21 204.67,219.49 205,219.24 C205.33,218.98 205.67,219.2 206,218.87 C206.33,218.54 206.67,217.38 207,217.26 C207.33,217.14 207.67,217.74 208,218.16 C208.33,218.58 208.67,219.55 209,219.78 C209.33,220.01 209.67,219.56 210,219.55 C210.33,219.53 210.67,219.94 211,219.69 C211.33,219.44 211.67,218.48 212,218.04 C212.33,217.59 212.67,217.09 213,217.01 C213.33,216.93 213.67,217.33 214,217.57 C214.33,217.8 214.67,218.28 215,218.43 C215.33,218.57 215.67,218.42 216,218.43 C216.33,218.44 216.67,218.86 217,218.47 C217.33,218.09 217.67,216.52 218,216.11 C218.33,215.69 218.67,215.99 219,215.98 C219.33,215.97 219.67,216.08 220,216.03 C220.33,215.99 220.67,215.67 221,215.73 C221.33,215.79 221.67,216.37 222,216.39 C222.33,216.4 222.67,216.12 223,215.83 C223.33,215.55 223.67,215.25 224,214.69 C224.33,214.12 224.67,212.72 225,212.43 C225.33,212.13 225.67,212.81 226,212.92 C226.33,213.02 226.67,212.95 227,213.06 C227.33,213.18 227.67,213.69 228,213.61 C228.33,213.52 228.67,213.09 229,212.56 C229.33,212.02 229.67,211.21 230,210.42 C230.33,209.64 230.67,208.23 231,207.84 C231.33,207.45 231.67,208.12 232,208.1 C232.33,208.08 232.67,207.76 233,207.71 C233.33,207.67 233.67,208.16 234,207.81 C234.33,207.46 234.67,206.26 235,205.61 C235.33,204.96 235.67,204.48 236,203.92 C236.33,203.37 236.67,202.68 237,202.29 C237.33,201.89 237.67,201.65 238,201.55 C238.33,201.45 238.67,201.74 239,201.7 C239.33,201.65 239.67,201.66 240,201.27 C240.33,200.87 240.67,200.13 241,199.33 C241.33,198.53 241.67,197.03 242,196.47 C242.33,195.9 242.67,196.23 243,195.93 C243.33,195.63 243.67,194.97 244,194.68 C244.33,194.38 244.67,194.23 245,194.17 C245.33,194.12 245.67,194.6 246,194.36 C246.33,194.11 246.67,193.43 247,192.7 C247.33,191.97 247.67,190.56 248,189.98 C248.33,189.4 248.67,189.66 249,189.22 C249.33,188.78 249.67,187.47 250,187.34 C250.33,187.22 250.67,188.46 251,188.47 C251.33,188.48 251.67,187.95 252,187.39 C252.33,186.83 252.67,185.83 253,185.09 C253.33,184.35 253.67,183.58 254,182.94 C254.33,182.29 254.67,181.69 255,181.21 C255.33,180.73 255.67,180.1 256,180.05 C256.33,180.01 256.67,180.91 257,180.93 C257.33,180.95 257.67,180.51 258,180.16 C258.33,179.81 258.67,179.49 259,178.82 C259.33,178.16 259.67,176.92 260,176.15 C260.33,175.38 260.67,174.58 261,174.19 C261.33,173.8 261.67,173.87 262,173.8 C262.33,173.73 262.67,173.92 263,173.77 C263.33,173.62 263.67,173.34 264,172.88 C264.33,172.43 264.67,171.75 265,171.06 C265.33,170.36 265.67,169.33 266,168.72 C266.33,168.11 266.67,167.67 267,167.38 C267.33,167.09 267.67,167.04 268,166.98 C268.33,166.91 268.67,166.96 269,166.98 C269.33,167.01 269.67,167.48 270,167.13 C270.33,166.78 270.67,165.46 271,164.9 C271.33,164.33 271.67,164.22 272,163.76 C272.33,163.29 272.67,162.27 273,162.13 C273.33,161.98 273.67,162.65 274,162.89 C274.33,163.13 274.67,163.39 275,163.58 C275.33,163.76 275.67,163.9 276,163.99 C276.33,164.08 276.67,164.4 277,164.11 C277.33,163.82 277.67,162.5 278,162.25 C278.33,161.99 278.67,162.42 279,162.58 C279.33,162.74 279.67,162.93 280,163.18 C280.33,163.43 280.67,163.61 281,164.09 C281.33,164.58 281.67,165.97 282,166.09 C282.33,166.21 282.67,164.98 283,164.8 C283.33,164.63 283.67,164.95 284,165.04 C284.33,165.13 284.67,165.04 285,165.34 C285.33,165.63 285.67,166.14 286,166.82 C286.33,167.5 286.67,168.78 287,169.41 C287.33,170.04 287.67,170.18 288,170.6 C288.33,171.01 288.67,171.79 289,171.89 C289.33,172 289.67,171.16 290,171.22 C290.33,171.27 290.67,171.75 291,172.21 C291.33,172.68 291.67,172.97 292,174.01 C292.33,175.05 292.67,177.25 293,178.47 C293.33,179.69 293.67,180.44 294,181.34 C294.33,182.24 294.67,183.2 295,183.85 C295.33,184.51 295.67,184.45 296,185.26 C296.33,186.07 296.67,187.25 297,188.7 C297.33,190.16 297.67,192.36 298,194.01 C298.33,195.65 298.67,196.75 299,198.56 C299.33,200.37 299.67,203.17 300,204.86 C300.33,206.54 300.67,207.5 301,208.66 C301.33,209.83 301.67,210.7 302,211.83 C302.33,212.96 302.67,213.88 303,215.44 C303.33,217 303.67,219.05 304,221.19 C304.33,223.34 304.67,226.56 305,228.33 C305.33,230.11 305.67,230.7 306,231.83 C306.33,232.95 306.67,234.21 307,235.08 C307.33,235.95 307.67,236.27 308,237.04 C308.33,237.8 308.67,238.67 309,239.68 C309.33,240.69 309.67,241.89 310,243.08 C310.33,244.27 310.67,245.56 311,246.82 C311.33,248.08 311.67,249.93 312,250.66 C312.33,251.39 312.67,250.9 313,251.22 C313.33,251.54 313.67,252.1 314,252.58 C314.33,253.05 314.67,253.47 315,254.06 C315.33,254.65 315.67,255.38 316,256.14 C316.33,256.91 316.67,257.7 317,258.64 C317.33,259.57 317.67,261.25 318,261.76 C318.33,262.28 318.67,261.78 319,261.71 C319.33,261.63 319.67,261.28 320,261.32 C320.33,261.35 320.67,261.57 321,261.94 C321.33,262.3 321.67,262.89 322,263.51 C322.33,264.13 322.67,265.08 323,265.66 C323.33,266.24 323.67,266.76 324,267.01 C324.33,267.26 324.67,267.16 325,267.15 C325.33,267.14 325.67,267.15 326,266.95 C326.33,266.76 326.67,265.93 327,265.98 C327.33,266.02 327.67,266.9 328,267.21 C328.33,267.51 328.67,267.53 329,267.81 C329.33,268.09 329.67,268.59 330,268.9 C330.33,269.21 330.67,269.85 331,269.67 C331.33,269.49 331.67,268.15 332,267.8 C332.33,267.45 332.67,267.61 333,267.58 C333.33,267.56 333.67,267.26 334,267.64 C334.33,268.02 334.67,269.5 335,269.88 C335.33,270.26 335.67,270.06 336,269.91 C336.33,269.76 336.67,269.27 337,268.97 C337.33,268.67 337.83,268.25 338,268.11" fill="none" stroke="#4040f0" stroke-width="0.75" stroke-linejoin="round" stroke-linecap="round"/>
<path d="M204,219.7 C206.48,219.82 213.65,220.02 218.9,220.4 C224.15,220.78 230.77,221.33 235.5,222 C240.23,222.67 243.35,223.28 247.3,224.4 C251.25,225.52 255.25,226.8 259.2,228.7 C263.15,230.6 267.07,232.65 271,235.8 C274.93,238.95 278.85,243.85 282.8,247.6 C286.75,251.35 290.75,255.33 294.7,258.3 C298.65,261.27 302.57,263.83 306.5,265.4 C310.43,266.97 314.15,267.2 318.3,267.7 C322.45,268.2 328.05,268.27 331.4,268.4 C334.75,268.53 337.23,268.48 338.4,268.5" fill="none" stroke="#4a4a4a" stroke-width="1" stroke-linejoin="round" stroke-linecap="round"/>
<path d="M225,213.8 C226.67,212.42 232.67,207.55 235,205.5 C237.33,203.45 237.7,202.48 239,201.5 C240.3,200.52 241.63,199.75 242.8,199.6 C243.97,199.45 244.98,200.07 246,200.6 C247.02,201.13 247.73,201.63 248.9,202.8 C250.07,203.97 251.65,205.68 253,207.6 C254.35,209.52 255.65,212.05 257,214.3 C258.35,216.55 259.75,218.85 261.1,221.1 C262.45,223.35 263.45,225.32 265.1,227.8 C266.75,230.28 269.18,233.63 271,236 C272.82,238.37 274.33,240.2 276,242 C277.67,243.8 280.17,246 281,246.8" fill="none" stroke="#55e055" stroke-width="1" stroke-linejoin="round" stroke-linecap="round"/>
<path d="M245,222.8 C245.83,223.13 248.43,224.3 250,224.8 C251.57,225.3 253.07,225.77 254.4,225.8 C255.73,225.83 256.82,225.5 258,225 C259.18,224.5 259.73,224.55 261.5,222.8 C263.27,221.05 266.23,217.8 268.6,214.5 C270.97,211.2 273.8,206.42 275.7,203 C277.6,199.58 278.7,196.42 280,194 C281.3,191.58 282.23,190.15 283.5,188.5 C284.77,186.85 286.27,184.43 287.6,184.1 C288.93,183.77 290.32,185.13 291.5,186.5 C292.68,187.87 293.78,190.38 294.7,192.3 C295.62,194.22 296.62,197.05 297,198" fill="none" stroke="#45a896" stroke-width="1" stroke-linejoin="round" stroke-linecap="round"/>
<path d="M233.1,221.8 C234.38,221.68 238.38,221.9 240.8,221.1 C243.22,220.3 245.57,218.8 247.6,217 C249.63,215.2 251.2,213 253,210.3 C254.8,207.6 256.6,203.5 258.4,200.8 C260.2,198.1 262.28,195.7 263.8,194.1 C265.32,192.5 266.13,191.3 267.5,191.2 C268.87,191.1 270.63,191.73 272,193.5 C273.37,195.27 274.48,198.45 275.7,201.8 C276.92,205.15 278.3,210.4 279.3,213.6 C280.3,216.8 280.52,216.92 281.7,221 C282.88,225.08 284.63,232.88 286.4,238.1 C288.17,243.32 289.73,248.35 292.3,252.3 C294.87,256.25 298.25,259.35 301.8,261.8 C305.35,264.25 311.63,266.13 313.6,267" fill="none" stroke="#e04848" stroke-width="1" stroke-linejoin="round" stroke-linecap="round"/>
<path d="M204,219.2 C205.7,219 210.92,218.7 214.2,218 C217.48,217.3 221.07,216.23 223.7,215 C226.33,213.77 227.82,212.6 230,210.6 C232.18,208.6 233.98,206.05 236.8,203 C239.62,199.95 243.8,195.8 246.9,192.3 C250,188.8 252.87,185.12 255.4,182 C257.93,178.88 259.85,176.27 262.1,173.6 C264.35,170.93 266.65,167.83 268.9,166 C271.15,164.17 273.35,162.88 275.6,162.6 C277.85,162.32 280.43,163.32 282.4,164.3 C284.37,165.28 285.85,166.82 287.4,168.5 C288.95,170.18 290.43,172.02 291.7,174.4 C292.97,176.78 294.02,179.85 295,182.8 C295.98,185.75 296.75,188.58 297.6,192.1 C298.45,195.62 299.23,200 300.1,203.9 C300.97,207.8 301.93,211.37 302.8,215.5 C303.67,219.63 303.9,223.35 305.3,228.7 C306.7,234.05 309.03,242.28 311.2,247.6 C313.37,252.92 315.93,257.37 318.3,260.6 C320.67,263.83 323.03,265.62 325.4,267 C327.77,268.38 330.33,268.57 332.5,268.9 C334.67,269.23 337.42,268.98 338.4,269" fill="none" stroke="#2a2a2a" stroke-width="0.8" stroke-linejoin="round" stroke-linecap="round"/>
</g></g>
<line x1="203.8" y1="151.6" x2="207.4" y2="151.6" stroke="#333" stroke-width="0.9"/>
<line x1="203.8" y1="159.97" x2="206.4" y2="159.97" stroke="#555" stroke-width="0.9"/>
<line x1="203.8" y1="168.33" x2="207.4" y2="168.33" stroke="#333" stroke-width="0.9"/>
<line x1="203.8" y1="176.7" x2="206.4" y2="176.7" stroke="#555" stroke-width="0.9"/>
<line x1="203.8" y1="185.06" x2="207.4" y2="185.06" stroke="#333" stroke-width="0.9"/>
<line x1="203.8" y1="193.43" x2="206.4" y2="193.43" stroke="#555" stroke-width="0.9"/>
<line x1="203.8" y1="201.79" x2="207.4" y2="201.79" stroke="#333" stroke-width="0.9"/>
<line x1="203.8" y1="210.16" x2="206.4" y2="210.16" stroke="#555" stroke-width="0.9"/>
<line x1="203.8" y1="218.52" x2="207.4" y2="218.52" stroke="#333" stroke-width="0.9"/>
<line x1="203.8" y1="226.89" x2="206.4" y2="226.89" stroke="#555" stroke-width="0.9"/>
<line x1="203.8" y1="235.25" x2="207.4" y2="235.25" stroke="#333" stroke-width="0.9"/>
<line x1="203.8" y1="243.62" x2="206.4" y2="243.62" stroke="#555" stroke-width="0.9"/>
<line x1="203.8" y1="251.98" x2="207.4" y2="251.98" stroke="#333" stroke-width="0.9"/>
<line x1="203.8" y1="260.35" x2="206.4" y2="260.35" stroke="#555" stroke-width="0.9"/>
<line x1="203.8" y1="268.71" x2="207.4" y2="268.71" stroke="#333" stroke-width="0.9"/>
<text x="202.6" y="154.35" font-size="8" font-weight="bold" fill="#1a1a1a" text-anchor="end">9000</text>
<text x="202.6" y="171.08" font-size="8" font-weight="bold" fill="#1a1a1a" text-anchor="end">8000</text>
<text x="202.6" y="187.81" font-size="8" font-weight="bold" fill="#1a1a1a" text-anchor="end">7000</text>
<text x="202.6" y="204.54" font-size="8" font-weight="bold" fill="#1a1a1a" text-anchor="end">6000</text>
<text x="202.6" y="221.27" font-size="8" font-weight="bold" fill="#1a1a1a" text-anchor="end">5000</text>
<text x="202.6" y="238" font-size="8" font-weight="bold" fill="#1a1a1a" text-anchor="end">4000</text>
<text x="202.6" y="254.73" font-size="8" font-weight="bold" fill="#1a1a1a" text-anchor="end">3000</text>
<text x="202.6" y="271.45" font-size="8" font-weight="bold" fill="#1a1a1a" text-anchor="end">2000</text>
<line x1="210.8" y1="270.9" x2="210.8" y2="267.7" stroke="#222" stroke-width="0.9"/>
<line x1="218.32" y1="270.9" x2="218.32" y2="267.7" stroke="#222" stroke-width="0.9"/>
<line x1="225.84" y1="270.9" x2="225.84" y2="267.7" stroke="#222" stroke-width="0.9"/>
<line x1="233.36" y1="270.9" x2="233.36" y2="267.7" stroke="#222" stroke-width="0.9"/>
<line x1="240.88" y1="270.9" x2="240.88" y2="267.7" stroke="#222" stroke-width="0.9"/>
<line x1="248.4" y1="270.9" x2="248.4" y2="267.7" stroke="#222" stroke-width="0.9"/>
<line x1="255.92" y1="270.9" x2="255.92" y2="267.7" stroke="#222" stroke-width="0.9"/>
<line x1="263.44" y1="270.9" x2="263.44" y2="267.7" stroke="#222" stroke-width="0.9"/>
<line x1="270.96" y1="270.9" x2="270.96" y2="267.7" stroke="#222" stroke-width="0.9"/>
<line x1="278.48" y1="270.9" x2="278.48" y2="267.7" stroke="#222" stroke-width="0.9"/>
<line x1="286" y1="270.9" x2="286" y2="267.7" stroke="#222" stroke-width="0.9"/>
<line x1="293.52" y1="270.9" x2="293.52" y2="267.7" stroke="#222" stroke-width="0.9"/>
<line x1="301.04" y1="270.9" x2="301.04" y2="267.7" stroke="#222" stroke-width="0.9"/>
<line x1="308.56" y1="270.9" x2="308.56" y2="267.7" stroke="#222" stroke-width="0.9"/>
<line x1="316.08" y1="270.9" x2="316.08" y2="267.7" stroke="#222" stroke-width="0.9"/>
<line x1="323.6" y1="270.9" x2="323.6" y2="267.7" stroke="#222" stroke-width="0.9"/>
<line x1="331.12" y1="270.9" x2="331.12" y2="267.7" stroke="#222" stroke-width="0.9"/>
<text x="210.8" y="279.7" font-size="8.2" font-weight="bold" fill="#1a1a1a" text-anchor="middle">715.5</text>
<text x="264" y="279.7" font-size="8.2" font-weight="bold" fill="#1a1a1a" text-anchor="middle">712</text>
<text x="316.1" y="279.7" font-size="8.2" font-weight="bold" fill="#1a1a1a" text-anchor="middle">708.5</text>
<text x="267.9" y="291.3" font-size="8.8" font-weight="bold" fill="#1a1a1a" text-anchor="middle">Binding Energy (eV)</text>
<text x="178.3" y="208.1" font-size="8.7" font-weight="bold" fill="#1a1a1a" text-anchor="middle" transform="rotate(-90 178.3 205.2)">Counts</text>
<path d="M203.8,148.6 H338.4 V270.9" fill="none" stroke="#8c8c8c" stroke-width="1.2"/>
<path d="M203.8,148.6 V270.9 H338.4" fill="none" stroke="#2a2a2a" stroke-width="1.3"/>
<text x="206.6" y="157.21" font-size="7.7" fill="#111" font-weight="bold" textLength="69.1" lengthAdjust="spacingAndGlyphs">Chi square: 1.84781</text>
<text x="287.1" y="156.94" font-size="8.6" fill="#a6381f" font-weight="bold" textLength="20.7" lengthAdjust="spacingAndGlyphs">Fe 2p</text>
<text x="323.1" y="159.13" font-size="11" fill="#111" font-weight="bold" textLength="14.9" lengthAdjust="spacingAndGlyphs">(d)</text>
<text x="297.5" y="180" font-size="7.9" fill="#c0262c" font-weight="bold" textLength="19.9" lengthAdjust="spacingAndGlyphs"><tspan>Fe</tspan><tspan font-size="5.21" dy="1.9">2</tspan><tspan dy="-1.9">O</tspan><tspan font-size="5.21" dy="1.9">3</tspan></text>
<text x="214.2" y="192.11" font-size="7.9" fill="#3cb44b" font-weight="bold" textLength="26.7" lengthAdjust="spacingAndGlyphs">FeOOH</text>
<text x="305.3" y="205.6" font-size="7.9" fill="#2f74c0" font-weight="bold" textLength="20.3" lengthAdjust="spacingAndGlyphs"><tspan>Fe</tspan><tspan font-size="5.21" dy="1.9">3</tspan><tspan dy="-1.9">O</tspan><tspan font-size="5.21" dy="1.9">4</tspan></text>
<line x1="228.4" y1="195.9" x2="241.23" y2="207.73" stroke="#3cb44b" stroke-width="0.9"/>
<polygon points="243.8,210.1 239.57,208.79 242.15,205.99" fill="#3cb44b"/>
<line x1="300.6" y1="184.1" x2="273.24" y2="217.01" stroke="#c0262c" stroke-width="0.9"/>
<polygon points="271,219.7 272.1,215.41 275.02,217.84" fill="#c0262c"/>
<line x1="311.8" y1="208.3" x2="296.68" y2="222.14" stroke="#2f74c0" stroke-width="0.9"/>
<polygon points="294.1,224.5 295.77,220.4 298.33,223.2" fill="#2f74c0"/>
<text x="246.8" y="191.77" font-size="7.8" font-weight="bold" fill="#151515" stroke="#151515" stroke-width="0.1" text-anchor="middle" transform="rotate(-90 246.8 189.2)">A</text>
<line x1="245.5" y1="193.5" x2="245.5" y2="197.5" stroke="#222" stroke-width="0.7"/>
<text x="270.1" y="183.87" font-size="7.8" font-weight="bold" fill="#151515" stroke="#151515" stroke-width="0.1" text-anchor="middle" transform="rotate(-90 270.1 181.3)">B</text>
<line x1="270" y1="186.3" x2="270" y2="190.5" stroke="#222" stroke-width="0.7"/>
<text x="291.5" y="177.07" font-size="7.8" font-weight="bold" fill="#151515" stroke="#151515" stroke-width="0.1" text-anchor="middle" transform="rotate(-90 291.5 174.5)">C</text>
<line x1="290.5" y1="179.5" x2="290.5" y2="183.5" stroke="#222" stroke-width="0.7"/>
</g>
<g>
<clipPath id="cg"><rect x="373.8" y="149.3" width="135.7" height="120.9"/></clipPath>
<g clip-path="url(#cg)"><g class="cv">
<path d="M374,249.7 L376.3,241.3 L378.6,242.8 L380.8,239.8 L383.9,237.5 L386.2,242.8 L388.5,247.4 L390.7,242.1 L393.8,241.3 L395.3,244.4 L397.6,239.8 L399.9,239.8 L402.2,244.4 L403.7,237.5 L406,231.4 L408.2,238.3 L411.3,229.1 L413.6,230.7 L415.1,223 L417,221.94 L418.6,216.15 L420.2,214.79 L421.8,209.51 L423.4,207.78 L425,200.96 L426.6,199.82 L428.2,194.02 L429.8,192.36 L431.4,186.52 L433,186.02 L434.6,180.36 L436.2,179.76 L437.8,175.17 L439.4,175.84 L441,176.99 L442.6,172.6 L444.2,173.45 L445.8,171.24 L447.4,172.39 L449,169.57 L450.6,175.65 L452.2,171.8 L453.8,177.79 L455.4,175.93 L457,182.53 L458.6,181.66 L460.2,187.66 L462.5,195 L466,209.2 L469.6,225.7 L473.1,237.6 L474.3,245.8 L476.6,242.3 L479,250.6 L482.6,255.3 L486.1,251.7 L489.6,254.1 L492,250.6 L495.6,256.5 L497.9,249.4 L500.3,257.6 L503.8,257.6 L507.4,262.4 L509.5,256.5" fill="none" stroke="#4040f0" stroke-width="0.9" stroke-linejoin="round" stroke-linecap="round"/>
<path d="M374,241.7 C377.28,241.7 387.67,241.67 393.7,241.7 C399.73,241.73 406.15,241.72 410.2,241.9 C414.25,242.08 415.2,242.25 418,242.8 C420.8,243.35 423.33,244.08 427,245.2 C430.67,246.32 436.08,248.03 440,249.5 C443.92,250.97 446.38,252.2 450.5,254 C454.62,255.8 459.97,258.83 464.7,260.3 C469.43,261.77 473.38,262.3 478.9,262.8 C484.42,263.3 492.7,263.17 497.8,263.3 C502.9,263.43 507.55,263.55 509.5,263.6" fill="none" stroke="#4a4a4a" stroke-width="1" stroke-linejoin="round" stroke-linecap="round"/>
<path d="M415,226.3 C415.93,224.33 418.68,218.05 420.6,214.5 C422.52,210.95 424.68,207.5 426.5,205 C428.32,202.5 429.85,200.8 431.5,199.5 C433.15,198.2 434.82,197.32 436.4,197.2 C437.98,197.08 439.45,197.67 441,198.8 C442.55,199.93 444.03,200.6 445.7,204 C447.37,207.4 448.63,213.9 451,219.2 C453.37,224.5 457.23,230.67 459.9,235.8 C462.57,240.93 464.63,246.25 467,250 C469.37,253.75 471.33,256.33 474.1,258.3 C476.87,260.27 479.28,260.95 483.6,261.8 C487.92,262.65 497.27,263.13 500,263.4" fill="none" stroke="#e04848" stroke-width="1" stroke-linejoin="round" stroke-linecap="round"/>
<path d="M410.2,242.4 C412.57,242.28 420.85,242.42 424.4,241.7 C427.95,240.98 429.13,240.47 431.5,238.1 C433.87,235.73 436.42,231.43 438.6,227.5 C440.78,223.57 442.95,217.75 444.6,214.5 C446.25,211.25 447.18,209.83 448.5,208 C449.82,206.17 451.12,204.53 452.5,203.5 C453.88,202.47 455.47,201.88 456.8,201.8 C458.13,201.72 459.42,202.3 460.5,203 C461.58,203.7 462.43,204.67 463.3,206 C464.17,207.33 464.68,208.02 465.7,211 C466.72,213.98 467.6,218.2 469.4,223.9 C471.2,229.6 474.13,239.67 476.5,245.2 C478.87,250.73 480.45,254.25 483.6,257.1 C486.75,259.95 493.43,261.43 495.4,262.3" fill="none" stroke="#55e055" stroke-width="1" stroke-linejoin="round" stroke-linecap="round"/>
<path d="M374,242.4 C376.48,242.28 383.65,242.6 388.9,241.7 C394.15,240.8 401.15,239.57 405.5,237 C409.85,234.43 412.48,230.05 415,226.3 C417.52,222.55 418.73,218.73 420.6,214.5 C422.47,210.27 424.35,205.33 426.2,200.9 C428.05,196.47 429.85,191.62 431.7,187.9 C433.55,184.18 435.43,181.23 437.3,178.6 C439.17,175.97 441.03,173.65 442.9,172.1 C444.77,170.55 446.65,169.15 448.5,169.3 C450.35,169.45 452.3,170.98 454,173 C455.7,175.02 457.3,178.3 458.7,181.4 C460.1,184.5 461.32,188.03 462.4,191.6 C463.48,195.17 464.27,198.9 465.2,202.8 C466.13,206.7 466.9,210.68 468,215 C469.1,219.32 469.98,222.87 471.8,228.7 C473.62,234.53 476.15,244.8 478.9,250 C481.65,255.2 484.37,257.73 488.3,259.9 C492.23,262.07 498.97,262.43 502.5,263 C506.03,263.57 508.33,263.25 509.5,263.3" fill="none" stroke="#2a2a2a" stroke-width="1" stroke-linejoin="round" stroke-linecap="round"/>
</g></g>
<line x1="373.8" y1="150.5" x2="377.4" y2="150.5" stroke="#333" stroke-width="0.9"/>
<line x1="373.8" y1="156.49" x2="376.4" y2="156.49" stroke="#555" stroke-width="0.9"/>
<line x1="373.8" y1="162.49" x2="376.4" y2="162.49" stroke="#555" stroke-width="0.9"/>
<line x1="373.8" y1="168.48" x2="377.4" y2="168.48" stroke="#333" stroke-width="0.9"/>
<line x1="373.8" y1="174.48" x2="376.4" y2="174.48" stroke="#555" stroke-width="0.9"/>
<line x1="373.8" y1="180.47" x2="376.4" y2="180.47" stroke="#555" stroke-width="0.9"/>
<line x1="373.8" y1="186.46" x2="377.4" y2="186.46" stroke="#333" stroke-width="0.9"/>
<line x1="373.8" y1="192.46" x2="376.4" y2="192.46" stroke="#555" stroke-width="0.9"/>
<line x1="373.8" y1="198.45" x2="376.4" y2="198.45" stroke="#555" stroke-width="0.9"/>
<line x1="373.8" y1="204.45" x2="377.4" y2="204.45" stroke="#333" stroke-width="0.9"/>
<line x1="373.8" y1="210.44" x2="376.4" y2="210.44" stroke="#555" stroke-width="0.9"/>
<line x1="373.8" y1="216.43" x2="376.4" y2="216.43" stroke="#555" stroke-width="0.9"/>
<line x1="373.8" y1="222.43" x2="377.4" y2="222.43" stroke="#333" stroke-width="0.9"/>
<line x1="373.8" y1="228.42" x2="376.4" y2="228.42" stroke="#555" stroke-width="0.9"/>
<line x1="373.8" y1="234.42" x2="376.4" y2="234.42" stroke="#555" stroke-width="0.9"/>
<line x1="373.8" y1="240.41" x2="377.4" y2="240.41" stroke="#333" stroke-width="0.9"/>
<line x1="373.8" y1="246.4" x2="376.4" y2="246.4" stroke="#555" stroke-width="0.9"/>
<line x1="373.8" y1="252.4" x2="376.4" y2="252.4" stroke="#555" stroke-width="0.9"/>
<line x1="373.8" y1="258.39" x2="377.4" y2="258.39" stroke="#333" stroke-width="0.9"/>
<line x1="373.8" y1="264.39" x2="376.4" y2="264.39" stroke="#555" stroke-width="0.9"/>
<text x="372.6" y="153.25" font-size="8" font-weight="bold" fill="#1a1a1a" text-anchor="end">3100</text>
<text x="372.6" y="171.23" font-size="8" font-weight="bold" fill="#1a1a1a" text-anchor="end">2950</text>
<text x="372.6" y="189.22" font-size="8" font-weight="bold" fill="#1a1a1a" text-anchor="end">2800</text>
<text x="372.6" y="207.2" font-size="8" font-weight="bold" fill="#1a1a1a" text-anchor="end">2650</text>
<text x="372.6" y="225.18" font-size="8" font-weight="bold" fill="#1a1a1a" text-anchor="end">2500</text>
<text x="372.6" y="243.17" font-size="8" font-weight="bold" fill="#1a1a1a" text-anchor="end">2350</text>
<text x="372.6" y="261.15" font-size="8" font-weight="bold" fill="#1a1a1a" text-anchor="end">2200</text>
<line x1="381.4" y1="270.2" x2="381.4" y2="267" stroke="#222" stroke-width="0.9"/>
<line x1="389.98" y1="270.2" x2="389.98" y2="267" stroke="#222" stroke-width="0.9"/>
<line x1="398.56" y1="270.2" x2="398.56" y2="267" stroke="#222" stroke-width="0.9"/>
<line x1="407.14" y1="270.2" x2="407.14" y2="267" stroke="#222" stroke-width="0.9"/>
<line x1="415.72" y1="270.2" x2="415.72" y2="267" stroke="#222" stroke-width="0.9"/>
<line x1="424.3" y1="270.2" x2="424.3" y2="267" stroke="#222" stroke-width="0.9"/>
<line x1="432.88" y1="270.2" x2="432.88" y2="267" stroke="#222" stroke-width="0.9"/>
<line x1="441.46" y1="270.2" x2="441.46" y2="267" stroke="#222" stroke-width="0.9"/>
<line x1="450.04" y1="270.2" x2="450.04" y2="267" stroke="#222" stroke-width="0.9"/>
<line x1="458.62" y1="270.2" x2="458.62" y2="267" stroke="#222" stroke-width="0.9"/>
<line x1="467.2" y1="270.2" x2="467.2" y2="267" stroke="#222" stroke-width="0.9"/>
<line x1="475.78" y1="270.2" x2="475.78" y2="267" stroke="#222" stroke-width="0.9"/>
<line x1="484.36" y1="270.2" x2="484.36" y2="267" stroke="#222" stroke-width="0.9"/>
<line x1="492.94" y1="270.2" x2="492.94" y2="267" stroke="#222" stroke-width="0.9"/>
<line x1="501.52" y1="270.2" x2="501.52" y2="267" stroke="#222" stroke-width="0.9"/>
<text x="381.4" y="279.2" font-size="8.2" font-weight="bold" fill="#1a1a1a" text-anchor="middle">580.5</text>
<text x="432.9" y="279.2" font-size="8.2" font-weight="bold" fill="#1a1a1a" text-anchor="middle">577.5</text>
<text x="484.3" y="279.2" font-size="8.2" font-weight="bold" fill="#1a1a1a" text-anchor="middle">574.5</text>
<text x="439.4" y="292.4" font-size="8.8" font-weight="bold" fill="#1a1a1a" text-anchor="middle">Binding Energy (eV)</text>
<text x="350" y="208.1" font-size="8.7" font-weight="bold" fill="#1a1a1a" text-anchor="middle" transform="rotate(-90 350 205.2)">Counts</text>
<path d="M373.8,149.3 H509.5 V270.2" fill="none" stroke="#8c8c8c" stroke-width="1.2"/>
<path d="M373.8,149.3 V270.2 H509.5" fill="none" stroke="#2a2a2a" stroke-width="1.3"/>
<text x="376.6" y="157.61" font-size="7.7" fill="#111" font-weight="bold" textLength="70.3" lengthAdjust="spacingAndGlyphs">Chi square: 2.42307</text>
<text x="450" y="167.84" font-size="8.6" fill="#a6381f" font-weight="bold" textLength="22" lengthAdjust="spacingAndGlyphs">Cr 2p</text>
<text x="494.3" y="159.53" font-size="11" fill="#111" font-weight="bold" textLength="14.4" lengthAdjust="spacingAndGlyphs">(g)</text>
<text x="467" y="185.51" font-size="7.9" fill="#3cb44b" font-weight="bold" textLength="27.5" lengthAdjust="spacingAndGlyphs">(Fe, Cr)</text>
<text x="472.2" y="194.91" font-size="7.9" fill="#3cb44b" font-weight="bold" textLength="16.3" lengthAdjust="spacingAndGlyphs">alloy</text>
<text x="405" y="194.2" font-size="7.9" fill="#c0262c" font-weight="bold" textLength="20.1" lengthAdjust="spacingAndGlyphs"><tspan>Cr</tspan><tspan font-size="5.21" dy="1.9">2</tspan><tspan dy="-1.9">O</tspan><tspan font-size="5.21" dy="1.9">3</tspan></text>
<line x1="469.4" y1="195.9" x2="458.69" y2="208.26" stroke="#3cb44b" stroke-width="0.9"/>
<polygon points="456.4,210.9 457.58,206.63 460.46,209.12" fill="#3cb44b"/>
<line x1="419.7" y1="199.4" x2="430.61" y2="214" stroke="#c0262c" stroke-width="0.9"/>
<polygon points="432.7,216.8 428.78,214.73 431.83,212.46" fill="#c0262c"/>
<text x="438.4" y="188.87" font-size="7.8" font-weight="bold" fill="#151515" stroke="#151515" stroke-width="0.1" text-anchor="middle" transform="rotate(-90 438.4 186.3)">B</text>
<line x1="437.4" y1="192" x2="437.4" y2="195.4" stroke="#222" stroke-width="0.7"/>
<text x="457.8" y="193.27" font-size="7.8" font-weight="bold" fill="#151515" stroke="#151515" stroke-width="0.1" text-anchor="middle" transform="rotate(-90 457.8 190.7)">A</text>
<line x1="456.8" y1="197.3" x2="456.8" y2="201.3" stroke="#222" stroke-width="0.7"/>
</g>
<g>
<clipPath id="ch"><rect x="545.1" y="148.5" width="137.5" height="121.3"/></clipPath>
<g clip-path="url(#ch)"><g class="cv">
<path d="M545.2,222.6 L547,231.7 L549.3,226.4 L552.4,237.8 L555.4,215 L558.5,191.7 L563.8,216.1 L566.5,254.6 L569.1,228.7 L572.2,226.4 L575.2,250.8 L578.2,230.2 L580.5,207 L583.6,216.5 L588.1,224.1 L591.2,215 L594.2,178.8 L597.3,199.4 L600.3,210 L602.1,217.6 L604.9,190.2 L607.2,197.8 L610.2,189.5 L614.5,210.8 L616.2,219.3 L619.6,215.1 L623,218.4 L626.4,227.7 L628.9,211.7 L631.4,224.4 L634,221.8 L637.3,245.5 L638.2,254.8 L640.7,237 L644.1,233.6 L647.5,229.4 L651.7,253.9 L654.2,233.6 L656.8,239.6 L660.1,254.8 L662.7,235.3 L665.2,203.1 L670.3,240.4 L672.8,241.3 L675.9,224.4 L678.7,237 L681.3,255.6" fill="none" stroke="#4040f0" stroke-width="0.9" stroke-linejoin="round" stroke-linecap="round"/>
<line x1="566.2" y1="255.6" x2="650.7" y2="255.6" stroke="#1a1a1a" stroke-width="0.9"/>
<path d="M566.2,239.1 C568.25,236.53 574.48,228.63 578.5,223.7 C582.52,218.77 585.97,213.25 590.3,209.5 C594.63,205.75 599.77,201.6 604.5,201.2 C609.23,200.8 614.35,203.35 618.7,207.1 C623.05,210.85 626.65,218.77 630.6,223.7 C634.55,228.63 639.05,232.95 642.4,236.7 C645.75,240.45 649.32,244.62 650.7,246.2" fill="none" stroke="#2a2a2a" stroke-width="0.8" stroke-linejoin="round" stroke-linecap="round"/>
</g></g>
<line x1="545.1" y1="160.8" x2="548.7" y2="160.8" stroke="#333" stroke-width="0.9"/>
<line x1="545.1" y1="172.91" x2="547.7" y2="172.91" stroke="#555" stroke-width="0.9"/>
<line x1="545.1" y1="185.02" x2="548.7" y2="185.02" stroke="#333" stroke-width="0.9"/>
<line x1="545.1" y1="197.13" x2="547.7" y2="197.13" stroke="#555" stroke-width="0.9"/>
<line x1="545.1" y1="209.24" x2="548.7" y2="209.24" stroke="#333" stroke-width="0.9"/>
<line x1="545.1" y1="221.35" x2="547.7" y2="221.35" stroke="#555" stroke-width="0.9"/>
<line x1="545.1" y1="233.46" x2="548.7" y2="233.46" stroke="#333" stroke-width="0.9"/>
<line x1="545.1" y1="245.57" x2="547.7" y2="245.57" stroke="#555" stroke-width="0.9"/>
<line x1="545.1" y1="257.68" x2="548.7" y2="257.68" stroke="#333" stroke-width="0.9"/>
<text x="543.9" y="163.55" font-size="8" font-weight="bold" fill="#1a1a1a" text-anchor="end">1880</text>
<text x="543.9" y="187.75" font-size="8" font-weight="bold" fill="#1a1a1a" text-anchor="end">1840</text>
<text x="543.9" y="211.95" font-size="8" font-weight="bold" fill="#1a1a1a" text-anchor="end">1800</text>
<text x="543.9" y="236.15" font-size="8" font-weight="bold" fill="#1a1a1a" text-anchor="end">1760</text>
<text x="543.9" y="260.45" font-size="8" font-weight="bold" fill="#1a1a1a" text-anchor="end">1720</text>
<line x1="558" y1="269.8" x2="558" y2="266.6" stroke="#222" stroke-width="0.9"/>
<line x1="571.76" y1="269.8" x2="571.76" y2="266.6" stroke="#222" stroke-width="0.9"/>
<line x1="585.52" y1="269.8" x2="585.52" y2="266.6" stroke="#222" stroke-width="0.9"/>
<line x1="599.28" y1="269.8" x2="599.28" y2="266.6" stroke="#222" stroke-width="0.9"/>
<line x1="613.04" y1="269.8" x2="613.04" y2="266.6" stroke="#222" stroke-width="0.9"/>
<line x1="626.8" y1="269.8" x2="626.8" y2="266.6" stroke="#222" stroke-width="0.9"/>
<line x1="640.56" y1="269.8" x2="640.56" y2="266.6" stroke="#222" stroke-width="0.9"/>
<line x1="654.32" y1="269.8" x2="654.32" y2="266.6" stroke="#222" stroke-width="0.9"/>
<line x1="668.08" y1="269.8" x2="668.08" y2="266.6" stroke="#222" stroke-width="0.9"/>
<text x="558" y="278.6" font-size="8.2" font-weight="bold" fill="#1a1a1a" text-anchor="middle">577.5</text>
<text x="613.4" y="278.6" font-size="8.2" font-weight="bold" fill="#1a1a1a" text-anchor="middle">575.5</text>
<text x="668.1" y="278.6" font-size="8.2" font-weight="bold" fill="#1a1a1a" text-anchor="middle">573.5</text>
<text x="614.3" y="292.4" font-size="8.8" font-weight="bold" fill="#1a1a1a" text-anchor="middle">Binding Energy (eV)</text>
<text x="523" y="208.1" font-size="8.7" font-weight="bold" fill="#1a1a1a" text-anchor="middle" transform="rotate(-90 523 205.2)">Counts</text>
<path d="M545.1,148.5 H682.6 V269.8" fill="none" stroke="#8c8c8c" stroke-width="1.2"/>
<path d="M545.1,148.5 V269.8 H682.6" fill="none" stroke="#2a2a2a" stroke-width="1.3"/>
<text x="548.2" y="156.71" font-size="7.7" fill="#111" font-weight="bold" textLength="70.1" lengthAdjust="spacingAndGlyphs">Chi square: 2.43091</text>
<text x="614" y="167.84" font-size="8.6" fill="#a6381f" font-weight="bold" textLength="22" lengthAdjust="spacingAndGlyphs">Cr 2p</text>
<text x="665.6" y="159.13" font-size="11" fill="#111" font-weight="bold" textLength="14.9" lengthAdjust="spacingAndGlyphs">(h)</text>
<text x="618.3" y="188.31" font-size="7.9" fill="#3cb44b" font-weight="bold" textLength="26.2" lengthAdjust="spacingAndGlyphs">(Fe, Cr)</text>
<text x="623.5" y="197.81" font-size="7.9" fill="#3cb44b" font-weight="bold" textLength="15.6" lengthAdjust="spacingAndGlyphs">alloy</text>
<line x1="619.9" y1="195.9" x2="608.31" y2="213.67" stroke="#111" stroke-width="0.9"/>
<polygon points="606.4,216.6 606.99,212.21 610.18,214.29" fill="#111"/>
<text x="606.3" y="192.07" font-size="7.8" font-weight="bold" fill="#151515" stroke="#151515" stroke-width="0.1" text-anchor="middle" transform="rotate(-90 606.3 189.5)">A</text>
<line x1="605.5" y1="194" x2="605.5" y2="198" stroke="#222" stroke-width="0.7"/>
</g>
</svg>
</body></html>
